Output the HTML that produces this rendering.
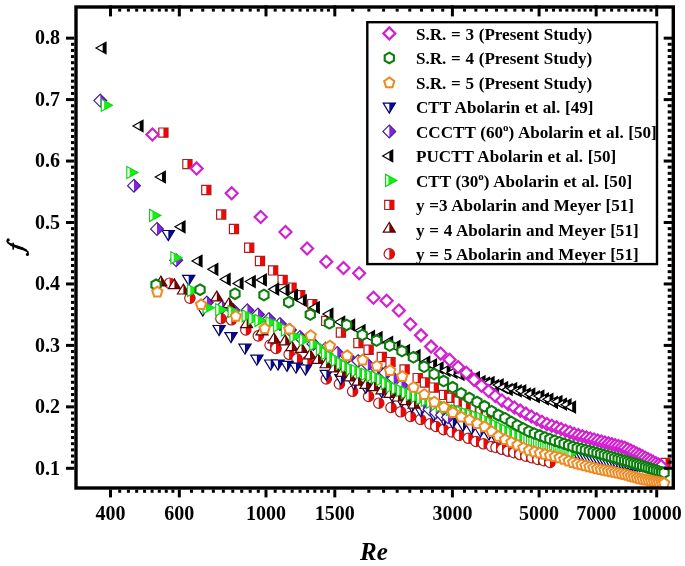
<!DOCTYPE html>
<html><head><meta charset="utf-8"><style>
html,body{margin:0;padding:0;background:#fff;width:685px;height:566px;overflow:hidden}
svg{display:block;will-change:transform}
</style></head><body>
<svg width="685" height="566" viewBox="0 0 685 566">
<rect width="685" height="566" fill="#fff"/>
<defs><clipPath id="c"><rect x="76.0" y="7.0" width="597.3" height="481.0"/></clipPath></defs>
<g clip-path="url(#c)">
<circle cx="169.6" cy="283.2" r="5.2" fill="#fff"/><path d="M169.6,278 A5.2,5.2 0 0 1 169.6,288.4 Z" fill="#f00"/><circle cx="169.6" cy="283.2" r="5.2" fill="none" stroke="#a82020" stroke-width="1.2"/>
<circle cx="189.9" cy="298.2" r="5.2" fill="#fff"/><path d="M189.9,293 A5.2,5.2 0 0 1 189.9,303.4 Z" fill="#f00"/><circle cx="189.9" cy="298.2" r="5.2" fill="none" stroke="#a82020" stroke-width="1.2"/>
<circle cx="220.9" cy="318.6" r="5.2" fill="#fff"/><path d="M220.9,313.4 A5.2,5.2 0 0 1 220.9,323.8 Z" fill="#f00"/><circle cx="220.9" cy="318.6" r="5.2" fill="none" stroke="#a82020" stroke-width="1.2"/>
<circle cx="231.4" cy="319.8" r="5.2" fill="#fff"/><path d="M231.4,314.6 A5.2,5.2 0 0 1 231.4,325 Z" fill="#f00"/><circle cx="231.4" cy="319.8" r="5.2" fill="none" stroke="#a82020" stroke-width="1.2"/>
<circle cx="245.8" cy="330" r="5.2" fill="#fff"/><path d="M245.8,324.8 A5.2,5.2 0 0 1 245.8,335.2 Z" fill="#f00"/><circle cx="245.8" cy="330" r="5.2" fill="none" stroke="#a82020" stroke-width="1.2"/>
<circle cx="258.3" cy="335.9" r="5.2" fill="#fff"/><path d="M258.3,330.7 A5.2,5.2 0 0 1 258.3,341.1 Z" fill="#f00"/><circle cx="258.3" cy="335.9" r="5.2" fill="none" stroke="#a82020" stroke-width="1.2"/>
<circle cx="270.1" cy="345.1" r="5.2" fill="#fff"/><path d="M270.1,339.9 A5.2,5.2 0 0 1 270.1,350.3 Z" fill="#f00"/><circle cx="270.1" cy="345.1" r="5.2" fill="none" stroke="#a82020" stroke-width="1.2"/>
<circle cx="276" cy="348.4" r="5.2" fill="#fff"/><path d="M276,343.2 A5.2,5.2 0 0 1 276,353.6 Z" fill="#f00"/><circle cx="276" cy="348.4" r="5.2" fill="none" stroke="#a82020" stroke-width="1.2"/>
<circle cx="289.1" cy="354.3" r="5.2" fill="#fff"/><path d="M289.1,349.1 A5.2,5.2 0 0 1 289.1,359.5 Z" fill="#f00"/><circle cx="289.1" cy="354.3" r="5.2" fill="none" stroke="#a82020" stroke-width="1.2"/>
<circle cx="297" cy="358.9" r="5.2" fill="#fff"/><path d="M297,353.7 A5.2,5.2 0 0 1 297,364.1 Z" fill="#f00"/><circle cx="297" cy="358.9" r="5.2" fill="none" stroke="#a82020" stroke-width="1.2"/>
<circle cx="307.3" cy="361.4" r="5.2" fill="#fff"/><path d="M307.3,356.2 A5.2,5.2 0 0 1 307.3,366.6 Z" fill="#f00"/><circle cx="307.3" cy="361.4" r="5.2" fill="none" stroke="#a82020" stroke-width="1.2"/>
<circle cx="326.3" cy="378.9" r="5.2" fill="#fff"/><path d="M326.3,373.7 A5.2,5.2 0 0 1 326.3,384.1 Z" fill="#f00"/><circle cx="326.3" cy="378.9" r="5.2" fill="none" stroke="#a82020" stroke-width="1.2"/>
<circle cx="339.4" cy="384" r="5.2" fill="#fff"/><path d="M339.4,378.8 A5.2,5.2 0 0 1 339.4,389.2 Z" fill="#f00"/><circle cx="339.4" cy="384" r="5.2" fill="none" stroke="#a82020" stroke-width="1.2"/>
<circle cx="352.6" cy="391.3" r="5.2" fill="#fff"/><path d="M352.6,386.1 A5.2,5.2 0 0 1 352.6,396.5 Z" fill="#f00"/><circle cx="352.6" cy="391.3" r="5.2" fill="none" stroke="#a82020" stroke-width="1.2"/>
<circle cx="368.6" cy="396.4" r="5.2" fill="#fff"/><path d="M368.6,391.2 A5.2,5.2 0 0 1 368.6,401.6 Z" fill="#f00"/><circle cx="368.6" cy="396.4" r="5.2" fill="none" stroke="#a82020" stroke-width="1.2"/>
<circle cx="378.8" cy="403.2" r="5.2" fill="#fff"/><path d="M378.8,398 A5.2,5.2 0 0 1 378.8,408.4 Z" fill="#f00"/><circle cx="378.8" cy="403.2" r="5.2" fill="none" stroke="#a82020" stroke-width="1.2"/>
<circle cx="391" cy="407.5" r="5.2" fill="#fff"/><path d="M391,402.3 A5.2,5.2 0 0 1 391,412.7 Z" fill="#f00"/><circle cx="391" cy="407.5" r="5.2" fill="none" stroke="#a82020" stroke-width="1.2"/>
<circle cx="400.7" cy="411.8" r="5.2" fill="#fff"/><path d="M400.7,406.6 A5.2,5.2 0 0 1 400.7,417 Z" fill="#f00"/><circle cx="400.7" cy="411.8" r="5.2" fill="none" stroke="#a82020" stroke-width="1.2"/>
<circle cx="410.5" cy="416.5" r="5.2" fill="#fff"/><path d="M410.5,411.3 A5.2,5.2 0 0 1 410.5,421.7 Z" fill="#f00"/><circle cx="410.5" cy="416.5" r="5.2" fill="none" stroke="#a82020" stroke-width="1.2"/>
<circle cx="420.6" cy="419.5" r="5.2" fill="#fff"/><path d="M420.6,414.3 A5.2,5.2 0 0 1 420.6,424.7 Z" fill="#f00"/><circle cx="420.6" cy="419.5" r="5.2" fill="none" stroke="#a82020" stroke-width="1.2"/>
<circle cx="430" cy="423.9" r="5.2" fill="#fff"/><path d="M430,418.7 A5.2,5.2 0 0 1 430,429.1 Z" fill="#f00"/><circle cx="430" cy="423.9" r="5.2" fill="none" stroke="#a82020" stroke-width="1.2"/>
<circle cx="436" cy="426.5" r="5.2" fill="#fff"/><path d="M436,421.3 A5.2,5.2 0 0 1 436,431.7 Z" fill="#f00"/><circle cx="436" cy="426.5" r="5.2" fill="none" stroke="#a82020" stroke-width="1.2"/>
<circle cx="443.6" cy="429.6" r="5.2" fill="#fff"/><path d="M443.6,424.4 A5.2,5.2 0 0 1 443.6,434.8 Z" fill="#f00"/><circle cx="443.6" cy="429.6" r="5.2" fill="none" stroke="#a82020" stroke-width="1.2"/>
<circle cx="451.9" cy="432" r="5.2" fill="#fff"/><path d="M451.9,426.8 A5.2,5.2 0 0 1 451.9,437.2 Z" fill="#f00"/><circle cx="451.9" cy="432" r="5.2" fill="none" stroke="#a82020" stroke-width="1.2"/>
<circle cx="459" cy="435.4" r="5.2" fill="#fff"/><path d="M459,430.2 A5.2,5.2 0 0 1 459,440.6 Z" fill="#f00"/><circle cx="459" cy="435.4" r="5.2" fill="none" stroke="#a82020" stroke-width="1.2"/>
<circle cx="468.3" cy="438.3" r="5.2" fill="#fff"/><path d="M468.3,433.1 A5.2,5.2 0 0 1 468.3,443.5 Z" fill="#f00"/><circle cx="468.3" cy="438.3" r="5.2" fill="none" stroke="#a82020" stroke-width="1.2"/>
<circle cx="476" cy="441.5" r="5.2" fill="#fff"/><path d="M476,436.3 A5.2,5.2 0 0 1 476,446.7 Z" fill="#f00"/><circle cx="476" cy="441.5" r="5.2" fill="none" stroke="#a82020" stroke-width="1.2"/>
<circle cx="483.5" cy="443.8" r="5.2" fill="#fff"/><path d="M483.5,438.6 A5.2,5.2 0 0 1 483.5,449 Z" fill="#f00"/><circle cx="483.5" cy="443.8" r="5.2" fill="none" stroke="#a82020" stroke-width="1.2"/>
<circle cx="491.7" cy="446.5" r="5.2" fill="#fff"/><path d="M491.7,441.3 A5.2,5.2 0 0 1 491.7,451.7 Z" fill="#f00"/><circle cx="491.7" cy="446.5" r="5.2" fill="none" stroke="#a82020" stroke-width="1.2"/>
<circle cx="496" cy="447.5" r="5.2" fill="#fff"/><path d="M496,442.3 A5.2,5.2 0 0 1 496,452.7 Z" fill="#f00"/><circle cx="496" cy="447.5" r="5.2" fill="none" stroke="#a82020" stroke-width="1.2"/>
<circle cx="502" cy="449.3" r="5.2" fill="#fff"/><path d="M502,444.1 A5.2,5.2 0 0 1 502,454.5 Z" fill="#f00"/><circle cx="502" cy="449.3" r="5.2" fill="none" stroke="#a82020" stroke-width="1.2"/>
<circle cx="508" cy="451.1" r="5.2" fill="#fff"/><path d="M508,445.9 A5.2,5.2 0 0 1 508,456.3 Z" fill="#f00"/><circle cx="508" cy="451.1" r="5.2" fill="none" stroke="#a82020" stroke-width="1.2"/>
<circle cx="514" cy="452.73" r="5.2" fill="#fff"/><path d="M514,447.53 A5.2,5.2 0 0 1 514,457.93 Z" fill="#f00"/><circle cx="514" cy="452.73" r="5.2" fill="none" stroke="#a82020" stroke-width="1.2"/>
<circle cx="520" cy="454.56" r="5.2" fill="#fff"/><path d="M520,449.36 A5.2,5.2 0 0 1 520,459.76 Z" fill="#f00"/><circle cx="520" cy="454.56" r="5.2" fill="none" stroke="#a82020" stroke-width="1.2"/>
<circle cx="526" cy="456.25" r="5.2" fill="#fff"/><path d="M526,451.05 A5.2,5.2 0 0 1 526,461.45 Z" fill="#f00"/><circle cx="526" cy="456.25" r="5.2" fill="none" stroke="#a82020" stroke-width="1.2"/>
<circle cx="532" cy="457.79" r="5.2" fill="#fff"/><path d="M532,452.59 A5.2,5.2 0 0 1 532,462.99 Z" fill="#f00"/><circle cx="532" cy="457.79" r="5.2" fill="none" stroke="#a82020" stroke-width="1.2"/>
<circle cx="538" cy="459.5" r="5.2" fill="#fff"/><path d="M538,454.3 A5.2,5.2 0 0 1 538,464.7 Z" fill="#f00"/><circle cx="538" cy="459.5" r="5.2" fill="none" stroke="#a82020" stroke-width="1.2"/>
<circle cx="544" cy="460.72" r="5.2" fill="#fff"/><path d="M544,455.52 A5.2,5.2 0 0 1 544,465.92 Z" fill="#f00"/><circle cx="544" cy="460.72" r="5.2" fill="none" stroke="#a82020" stroke-width="1.2"/>
<circle cx="550" cy="462.39" r="5.2" fill="#fff"/><path d="M550,457.19 A5.2,5.2 0 0 1 550,467.59 Z" fill="#f00"/><circle cx="550" cy="462.39" r="5.2" fill="none" stroke="#a82020" stroke-width="1.2"/>
<polygon points="162.2,230.5 174.4,230.5 168.3,240.5" fill="#fff" stroke="none"/><polygon points="168.3,230.5 174.4,230.5 168.3,240.5" fill="#0a0a96" stroke="none"/><polygon points="162.2,230.5 174.4,230.5 168.3,240.5" fill="none" stroke="#00006a" stroke-width="1.2"/>
<polygon points="182.6,275.3 194.8,275.3 188.7,285.3" fill="#fff" stroke="none"/><polygon points="188.7,275.3 194.8,275.3 188.7,285.3" fill="#0a0a96" stroke="none"/><polygon points="182.6,275.3 194.8,275.3 188.7,285.3" fill="none" stroke="#00006a" stroke-width="1.2"/>
<polygon points="196.7,306 208.9,306 202.8,316" fill="#fff" stroke="none"/><polygon points="202.8,306 208.9,306 202.8,316" fill="#0a0a96" stroke="none"/><polygon points="196.7,306 208.9,306 202.8,316" fill="none" stroke="#00006a" stroke-width="1.2"/>
<polygon points="213,325.5 225.2,325.5 219.1,335.5" fill="#fff" stroke="none"/><polygon points="219.1,325.5 225.2,325.5 219.1,335.5" fill="#0a0a96" stroke="none"/><polygon points="213,325.5 225.2,325.5 219.1,335.5" fill="none" stroke="#00006a" stroke-width="1.2"/>
<polygon points="224.9,332.6 237.1,332.6 231,342.6" fill="#fff" stroke="none"/><polygon points="231,332.6 237.1,332.6 231,342.6" fill="#0a0a96" stroke="none"/><polygon points="224.9,332.6 237.1,332.6 231,342.6" fill="none" stroke="#00006a" stroke-width="1.2"/>
<polygon points="238.9,344.2 251.1,344.2 245,354.2" fill="#fff" stroke="none"/><polygon points="245,344.2 251.1,344.2 245,354.2" fill="#0a0a96" stroke="none"/><polygon points="238.9,344.2 251.1,344.2 245,354.2" fill="none" stroke="#00006a" stroke-width="1.2"/>
<polygon points="250.8,355.2 263,355.2 256.9,365.2" fill="#fff" stroke="none"/><polygon points="256.9,355.2 263,355.2 256.9,365.2" fill="#0a0a96" stroke="none"/><polygon points="250.8,355.2 263,355.2 256.9,365.2" fill="none" stroke="#00006a" stroke-width="1.2"/>
<polygon points="264.6,360 276.8,360 270.7,370" fill="#fff" stroke="none"/><polygon points="270.7,360 276.8,360 270.7,370" fill="#0a0a96" stroke="none"/><polygon points="264.6,360 276.8,360 270.7,370" fill="none" stroke="#00006a" stroke-width="1.2"/>
<polygon points="271.9,360 284.1,360 278,370" fill="#fff" stroke="none"/><polygon points="278,360 284.1,360 278,370" fill="#0a0a96" stroke="none"/><polygon points="271.9,360 284.1,360 278,370" fill="none" stroke="#00006a" stroke-width="1.2"/>
<polygon points="280.9,361.3 293.1,361.3 287,371.3" fill="#fff" stroke="none"/><polygon points="287,361.3 293.1,361.3 287,371.3" fill="#0a0a96" stroke="none"/><polygon points="280.9,361.3 293.1,361.3 287,371.3" fill="none" stroke="#00006a" stroke-width="1.2"/>
<polygon points="289.9,363.2 302.1,363.2 296,373.2" fill="#fff" stroke="none"/><polygon points="296,363.2 302.1,363.2 296,373.2" fill="#0a0a96" stroke="none"/><polygon points="289.9,363.2 302.1,363.2 296,373.2" fill="none" stroke="#00006a" stroke-width="1.2"/>
<polygon points="299.4,365 311.6,365 305.5,375" fill="#fff" stroke="none"/><polygon points="305.5,365 311.6,365 305.5,375" fill="#0a0a96" stroke="none"/><polygon points="299.4,365 311.6,365 305.5,375" fill="none" stroke="#00006a" stroke-width="1.2"/>
<polygon points="320.2,370.3 332.4,370.3 326.3,380.3" fill="#fff" stroke="none"/><polygon points="326.3,370.3 332.4,370.3 326.3,380.3" fill="#0a0a96" stroke="none"/><polygon points="320.2,370.3 332.4,370.3 326.3,380.3" fill="none" stroke="#00006a" stroke-width="1.2"/>
<polygon points="334.8,374.6 347,374.6 340.9,384.6" fill="#fff" stroke="none"/><polygon points="340.9,374.6 347,374.6 340.9,384.6" fill="#0a0a96" stroke="none"/><polygon points="334.8,374.6 347,374.6 340.9,384.6" fill="none" stroke="#00006a" stroke-width="1.2"/>
<polygon points="347.9,379.7 360.1,379.7 354,389.7" fill="#fff" stroke="none"/><polygon points="354,379.7 360.1,379.7 354,389.7" fill="#0a0a96" stroke="none"/><polygon points="347.9,379.7 360.1,379.7 354,389.7" fill="none" stroke="#00006a" stroke-width="1.2"/>
<polygon points="359.6,383.4 371.8,383.4 365.7,393.4" fill="#fff" stroke="none"/><polygon points="365.7,383.4 371.8,383.4 365.7,393.4" fill="#0a0a96" stroke="none"/><polygon points="359.6,383.4 371.8,383.4 365.7,393.4" fill="none" stroke="#00006a" stroke-width="1.2"/>
<polygon points="375.7,387.8 387.9,387.8 381.8,397.8" fill="#fff" stroke="none"/><polygon points="381.8,387.8 387.9,387.8 381.8,397.8" fill="#0a0a96" stroke="none"/><polygon points="375.7,387.8 387.9,387.8 381.8,397.8" fill="none" stroke="#00006a" stroke-width="1.2"/>
<polygon points="386.8,392.8 399,392.8 392.9,402.8" fill="#fff" stroke="none"/><polygon points="392.9,392.8 399,392.8 392.9,402.8" fill="#0a0a96" stroke="none"/><polygon points="386.8,392.8 399,392.8 392.9,402.8" fill="none" stroke="#00006a" stroke-width="1.2"/>
<polygon points="395.6,397.2 407.8,397.2 401.7,407.2" fill="#fff" stroke="none"/><polygon points="401.7,397.2 407.8,397.2 401.7,407.2" fill="#0a0a96" stroke="none"/><polygon points="395.6,397.2 407.8,397.2 401.7,407.2" fill="none" stroke="#00006a" stroke-width="1.2"/>
<polygon points="405.8,402.3 418,402.3 411.9,412.3" fill="#fff" stroke="none"/><polygon points="411.9,402.3 418,402.3 411.9,412.3" fill="#0a0a96" stroke="none"/><polygon points="405.8,402.3 418,402.3 411.9,412.3" fill="none" stroke="#00006a" stroke-width="1.2"/>
<polygon points="414.6,406.7 426.8,406.7 420.7,416.7" fill="#fff" stroke="none"/><polygon points="420.7,406.7 426.8,406.7 420.7,416.7" fill="#0a0a96" stroke="none"/><polygon points="414.6,406.7 426.8,406.7 420.7,416.7" fill="none" stroke="#00006a" stroke-width="1.2"/>
<polygon points="427.7,411.1 439.9,411.1 433.8,421.1" fill="#fff" stroke="none"/><polygon points="433.8,411.1 439.9,411.1 433.8,421.1" fill="#0a0a96" stroke="none"/><polygon points="427.7,411.1 439.9,411.1 433.8,421.1" fill="none" stroke="#00006a" stroke-width="1.2"/>
<polygon points="437.9,415.5 450.1,415.5 444,425.5" fill="#fff" stroke="none"/><polygon points="444,415.5 450.1,415.5 444,425.5" fill="#0a0a96" stroke="none"/><polygon points="437.9,415.5 450.1,415.5 444,425.5" fill="none" stroke="#00006a" stroke-width="1.2"/>
<polygon points="446.7,418.4 458.9,418.4 452.8,428.4" fill="#fff" stroke="none"/><polygon points="452.8,418.4 458.9,418.4 452.8,428.4" fill="#0a0a96" stroke="none"/><polygon points="446.7,418.4 458.9,418.4 452.8,428.4" fill="none" stroke="#00006a" stroke-width="1.2"/>
<polygon points="456.9,421.3 469.1,421.3 463,431.3" fill="#fff" stroke="none"/><polygon points="463,421.3 469.1,421.3 463,431.3" fill="#0a0a96" stroke="none"/><polygon points="456.9,421.3 469.1,421.3 463,431.3" fill="none" stroke="#00006a" stroke-width="1.2"/>
<polygon points="465.7,424.2 477.9,424.2 471.8,434.2" fill="#fff" stroke="none"/><polygon points="471.8,424.2 477.9,424.2 471.8,434.2" fill="#0a0a96" stroke="none"/><polygon points="465.7,424.2 477.9,424.2 471.8,434.2" fill="none" stroke="#00006a" stroke-width="1.2"/>
<polygon points="474.4,427.2 486.6,427.2 480.5,437.2" fill="#fff" stroke="none"/><polygon points="480.5,427.2 486.6,427.2 480.5,437.2" fill="#0a0a96" stroke="none"/><polygon points="474.4,427.2 486.6,427.2 480.5,437.2" fill="none" stroke="#00006a" stroke-width="1.2"/>
<polygon points="482.9,430 495.1,430 489,440" fill="#fff" stroke="none"/><polygon points="489,430 495.1,430 489,440" fill="#0a0a96" stroke="none"/><polygon points="482.9,430 495.1,430 489,440" fill="none" stroke="#00006a" stroke-width="1.2"/>
<polygon points="488.73,431.5 500.93,431.5 494.83,441.5" fill="#fff" stroke="none"/><polygon points="494.83,431.5 500.93,431.5 494.83,441.5" fill="#0a0a96" stroke="none"/><polygon points="488.73,431.5 500.93,431.5 494.83,441.5" fill="none" stroke="#00006a" stroke-width="1.2"/>
<polygon points="494.36,432.96 506.56,432.96 500.46,442.96" fill="#fff" stroke="none"/><polygon points="500.46,432.96 506.56,432.96 500.46,442.96" fill="#0a0a96" stroke="none"/><polygon points="494.36,432.96 506.56,432.96 500.46,442.96" fill="none" stroke="#00006a" stroke-width="1.2"/>
<polygon points="499.81,434.36 512.01,434.36 505.91,444.36" fill="#fff" stroke="none"/><polygon points="505.91,434.36 512.01,434.36 505.91,444.36" fill="#0a0a96" stroke="none"/><polygon points="499.81,434.36 512.01,434.36 505.91,444.36" fill="none" stroke="#00006a" stroke-width="1.2"/>
<polygon points="505.09,435.73 517.29,435.73 511.19,445.73" fill="#fff" stroke="none"/><polygon points="511.19,435.73 517.29,435.73 511.19,445.73" fill="#0a0a96" stroke="none"/><polygon points="505.09,435.73 517.29,435.73 511.19,445.73" fill="none" stroke="#00006a" stroke-width="1.2"/>
<polygon points="510.21,437.05 522.41,437.05 516.31,447.05" fill="#fff" stroke="none"/><polygon points="516.31,437.05 522.41,437.05 516.31,447.05" fill="#0a0a96" stroke="none"/><polygon points="510.21,437.05 522.41,437.05 516.31,447.05" fill="none" stroke="#00006a" stroke-width="1.2"/>
<polygon points="515.18,438.3 527.38,438.3 521.28,448.3" fill="#fff" stroke="none"/><polygon points="521.28,438.3 527.38,438.3 521.28,448.3" fill="#0a0a96" stroke="none"/><polygon points="515.18,438.3 527.38,438.3 521.28,448.3" fill="none" stroke="#00006a" stroke-width="1.2"/>
<polygon points="520.01,439.45 532.21,439.45 526.11,449.45" fill="#fff" stroke="none"/><polygon points="526.11,439.45 532.21,439.45 526.11,449.45" fill="#0a0a96" stroke="none"/><polygon points="520.01,439.45 532.21,439.45 526.11,449.45" fill="none" stroke="#00006a" stroke-width="1.2"/>
<polygon points="524.71,440.57 536.91,440.57 530.81,450.57" fill="#fff" stroke="none"/><polygon points="530.81,440.57 536.91,440.57 530.81,450.57" fill="#0a0a96" stroke="none"/><polygon points="524.71,440.57 536.91,440.57 530.81,450.57" fill="none" stroke="#00006a" stroke-width="1.2"/>
<polygon points="529.28,441.65 541.48,441.65 535.38,451.65" fill="#fff" stroke="none"/><polygon points="535.38,441.65 541.48,441.65 535.38,451.65" fill="#0a0a96" stroke="none"/><polygon points="529.28,441.65 541.48,441.65 535.38,451.65" fill="none" stroke="#00006a" stroke-width="1.2"/>
<polygon points="533.73,442.71 545.93,442.71 539.83,452.71" fill="#fff" stroke="none"/><polygon points="539.83,442.71 545.93,442.71 539.83,452.71" fill="#0a0a96" stroke="none"/><polygon points="533.73,442.71 545.93,442.71 539.83,452.71" fill="none" stroke="#00006a" stroke-width="1.2"/>
<polygon points="538.07,443.73 550.27,443.73 544.17,453.73" fill="#fff" stroke="none"/><polygon points="544.17,443.73 550.27,443.73 544.17,453.73" fill="#0a0a96" stroke="none"/><polygon points="538.07,443.73 550.27,443.73 544.17,453.73" fill="none" stroke="#00006a" stroke-width="1.2"/>
<polygon points="542.3,444.74 554.5,444.74 548.4,454.74" fill="#fff" stroke="none"/><polygon points="548.4,444.74 554.5,444.74 548.4,454.74" fill="#0a0a96" stroke="none"/><polygon points="542.3,444.74 554.5,444.74 548.4,454.74" fill="none" stroke="#00006a" stroke-width="1.2"/>
<polygon points="546.42,445.72 558.62,445.72 552.52,455.72" fill="#fff" stroke="none"/><polygon points="552.52,445.72 558.62,445.72 552.52,455.72" fill="#0a0a96" stroke="none"/><polygon points="546.42,445.72 558.62,445.72 552.52,455.72" fill="none" stroke="#00006a" stroke-width="1.2"/>
<polygon points="550.45,446.67 562.65,446.67 556.55,456.67" fill="#fff" stroke="none"/><polygon points="556.55,446.67 562.65,446.67 556.55,456.67" fill="#0a0a96" stroke="none"/><polygon points="550.45,446.67 562.65,446.67 556.55,456.67" fill="none" stroke="#00006a" stroke-width="1.2"/>
<polygon points="554.38,447.61 566.58,447.61 560.48,457.61" fill="#fff" stroke="none"/><polygon points="560.48,447.61 566.58,447.61 560.48,457.61" fill="#0a0a96" stroke="none"/><polygon points="554.38,447.61 566.58,447.61 560.48,457.61" fill="none" stroke="#00006a" stroke-width="1.2"/>
<polygon points="558.23,448.55 570.43,448.55 564.33,458.55" fill="#fff" stroke="none"/><polygon points="564.33,448.55 570.43,448.55 564.33,458.55" fill="#0a0a96" stroke="none"/><polygon points="558.23,448.55 570.43,448.55 564.33,458.55" fill="none" stroke="#00006a" stroke-width="1.2"/>
<polygon points="561.99,449.49 574.19,449.49 568.09,459.49" fill="#fff" stroke="none"/><polygon points="568.09,449.49 574.19,449.49 568.09,459.49" fill="#0a0a96" stroke="none"/><polygon points="561.99,449.49 574.19,449.49 568.09,459.49" fill="none" stroke="#00006a" stroke-width="1.2"/>
<polygon points="565.67,450.4 577.87,450.4 571.77,460.4" fill="#fff" stroke="none"/><polygon points="571.77,450.4 577.87,450.4 571.77,460.4" fill="#0a0a96" stroke="none"/><polygon points="565.67,450.4 577.87,450.4 571.77,460.4" fill="none" stroke="#00006a" stroke-width="1.2"/>
<polygon points="569.27,451.3 581.47,451.3 575.37,461.3" fill="#fff" stroke="none"/><polygon points="575.37,451.3 581.47,451.3 575.37,461.3" fill="#0a0a96" stroke="none"/><polygon points="569.27,451.3 581.47,451.3 575.37,461.3" fill="none" stroke="#00006a" stroke-width="1.2"/>
<polygon points="572.79,452.17 584.99,452.17 578.89,462.17" fill="#fff" stroke="none"/><polygon points="578.89,452.17 584.99,452.17 578.89,462.17" fill="#0a0a96" stroke="none"/><polygon points="572.79,452.17 584.99,452.17 578.89,462.17" fill="none" stroke="#00006a" stroke-width="1.2"/>
<polygon points="576.25,453.03 588.45,453.03 582.35,463.03" fill="#fff" stroke="none"/><polygon points="582.35,453.03 588.45,453.03 582.35,463.03" fill="#0a0a96" stroke="none"/><polygon points="576.25,453.03 588.45,453.03 582.35,463.03" fill="none" stroke="#00006a" stroke-width="1.2"/>
<polygon points="579.63,453.87 591.83,453.87 585.73,463.87" fill="#fff" stroke="none"/><polygon points="585.73,453.87 591.83,453.87 585.73,463.87" fill="#0a0a96" stroke="none"/><polygon points="579.63,453.87 591.83,453.87 585.73,463.87" fill="none" stroke="#00006a" stroke-width="1.2"/>
<polygon points="582.95,454.7 595.15,454.7 589.05,464.7" fill="#fff" stroke="none"/><polygon points="589.05,454.7 595.15,454.7 589.05,464.7" fill="#0a0a96" stroke="none"/><polygon points="582.95,454.7 595.15,454.7 589.05,464.7" fill="none" stroke="#00006a" stroke-width="1.2"/>
<polygon points="586.2,455.51 598.4,455.51 592.3,465.51" fill="#fff" stroke="none"/><polygon points="592.3,455.51 598.4,455.51 592.3,465.51" fill="#0a0a96" stroke="none"/><polygon points="586.2,455.51 598.4,455.51 592.3,465.51" fill="none" stroke="#00006a" stroke-width="1.2"/>
<polygon points="589.4,456.3 601.6,456.3 595.5,466.3" fill="#fff" stroke="none"/><polygon points="595.5,456.3 601.6,456.3 595.5,466.3" fill="#0a0a96" stroke="none"/><polygon points="589.4,456.3 601.6,456.3 595.5,466.3" fill="none" stroke="#00006a" stroke-width="1.2"/>
<polygon points="592.53,456.79 604.73,456.79 598.63,466.79" fill="#fff" stroke="none"/><polygon points="598.63,456.79 604.73,456.79 598.63,466.79" fill="#0a0a96" stroke="none"/><polygon points="592.53,456.79 604.73,456.79 598.63,466.79" fill="none" stroke="#00006a" stroke-width="1.2"/>
<polygon points="595.61,457.18 607.81,457.18 601.71,467.18" fill="#fff" stroke="none"/><polygon points="601.71,457.18 607.81,457.18 601.71,467.18" fill="#0a0a96" stroke="none"/><polygon points="595.61,457.18 607.81,457.18 601.71,467.18" fill="none" stroke="#00006a" stroke-width="1.2"/>
<polygon points="598.63,457.56 610.83,457.56 604.73,467.56" fill="#fff" stroke="none"/><polygon points="604.73,457.56 610.83,457.56 604.73,467.56" fill="#0a0a96" stroke="none"/><polygon points="598.63,457.56 610.83,457.56 604.73,467.56" fill="none" stroke="#00006a" stroke-width="1.2"/>
<polygon points="601.6,457.94 613.8,457.94 607.7,467.94" fill="#fff" stroke="none"/><polygon points="607.7,457.94 613.8,457.94 607.7,467.94" fill="#0a0a96" stroke="none"/><polygon points="601.6,457.94 613.8,457.94 607.7,467.94" fill="none" stroke="#00006a" stroke-width="1.2"/>
<polygon points="604.52,458.3 616.72,458.3 610.62,468.3" fill="#fff" stroke="none"/><polygon points="610.62,458.3 616.72,458.3 610.62,468.3" fill="#0a0a96" stroke="none"/><polygon points="604.52,458.3 616.72,458.3 610.62,468.3" fill="none" stroke="#00006a" stroke-width="1.2"/>
<polygon points="607.39,458.66 619.59,458.66 613.49,468.66" fill="#fff" stroke="none"/><polygon points="613.49,458.66 619.59,458.66 613.49,468.66" fill="#0a0a96" stroke="none"/><polygon points="607.39,458.66 619.59,458.66 613.49,468.66" fill="none" stroke="#00006a" stroke-width="1.2"/>
<polygon points="610.21,459.02 622.41,459.02 616.31,469.02" fill="#fff" stroke="none"/><polygon points="616.31,459.02 622.41,459.02 616.31,469.02" fill="#0a0a96" stroke="none"/><polygon points="610.21,459.02 622.41,459.02 616.31,469.02" fill="none" stroke="#00006a" stroke-width="1.2"/>
<polygon points="612.99,459.37 625.19,459.37 619.09,469.37" fill="#fff" stroke="none"/><polygon points="619.09,459.37 625.19,459.37 619.09,469.37" fill="#0a0a96" stroke="none"/><polygon points="612.99,459.37 625.19,459.37 619.09,469.37" fill="none" stroke="#00006a" stroke-width="1.2"/>
<polygon points="615.72,459.71 627.92,459.71 621.82,469.71" fill="#fff" stroke="none"/><polygon points="621.82,459.71 627.92,459.71 621.82,469.71" fill="#0a0a96" stroke="none"/><polygon points="615.72,459.71 627.92,459.71 621.82,469.71" fill="none" stroke="#00006a" stroke-width="1.2"/>
<polygon points="618.41,460.05 630.61,460.05 624.51,470.05" fill="#fff" stroke="none"/><polygon points="624.51,460.05 630.61,460.05 624.51,470.05" fill="#0a0a96" stroke="none"/><polygon points="618.41,460.05 630.61,460.05 624.51,470.05" fill="none" stroke="#00006a" stroke-width="1.2"/>
<polygon points="621.06,460.38 633.26,460.38 627.16,470.38" fill="#fff" stroke="none"/><polygon points="627.16,460.38 633.26,460.38 627.16,470.38" fill="#0a0a96" stroke="none"/><polygon points="621.06,460.38 633.26,460.38 627.16,470.38" fill="none" stroke="#00006a" stroke-width="1.2"/>
<polygon points="623.66,460.71 635.86,460.71 629.76,470.71" fill="#fff" stroke="none"/><polygon points="629.76,460.71 635.86,460.71 629.76,470.71" fill="#0a0a96" stroke="none"/><polygon points="623.66,460.71 635.86,460.71 629.76,470.71" fill="none" stroke="#00006a" stroke-width="1.2"/>
<polygon points="626.23,461.03 638.43,461.03 632.33,471.03" fill="#fff" stroke="none"/><polygon points="632.33,461.03 638.43,461.03 632.33,471.03" fill="#0a0a96" stroke="none"/><polygon points="626.23,461.03 638.43,461.03 632.33,471.03" fill="none" stroke="#00006a" stroke-width="1.2"/>
<polygon points="628.75,461.35 640.95,461.35 634.85,471.35" fill="#fff" stroke="none"/><polygon points="634.85,461.35 640.95,461.35 634.85,471.35" fill="#0a0a96" stroke="none"/><polygon points="628.75,461.35 640.95,461.35 634.85,471.35" fill="none" stroke="#00006a" stroke-width="1.2"/>
<polygon points="631.24,461.67 643.44,461.67 637.34,471.67" fill="#fff" stroke="none"/><polygon points="637.34,461.67 643.44,461.67 637.34,471.67" fill="#0a0a96" stroke="none"/><polygon points="631.24,461.67 643.44,461.67 637.34,471.67" fill="none" stroke="#00006a" stroke-width="1.2"/>
<polygon points="633.7,461.97 645.9,461.97 639.8,471.97" fill="#fff" stroke="none"/><polygon points="639.8,461.97 645.9,461.97 639.8,471.97" fill="#0a0a96" stroke="none"/><polygon points="633.7,461.97 645.9,461.97 639.8,471.97" fill="none" stroke="#00006a" stroke-width="1.2"/>
<polygon points="100.3,94.2 106.7,100.6 100.3,107 93.9,100.6" fill="#fff" stroke="none"/><polygon points="100.3,94.2 106.7,100.6 100.3,107" fill="#8a1ef0" stroke="none"/><polygon points="100.3,94.2 106.7,100.6 100.3,107 93.9,100.6" fill="none" stroke="#46208a" stroke-width="1.2"/>
<polygon points="134,179.3 140.4,185.7 134,192.1 127.6,185.7" fill="#fff" stroke="none"/><polygon points="134,179.3 140.4,185.7 134,192.1" fill="#8a1ef0" stroke="none"/><polygon points="134,179.3 140.4,185.7 134,192.1 127.6,185.7" fill="none" stroke="#46208a" stroke-width="1.2"/>
<polygon points="157,222.5 163.4,228.9 157,235.3 150.6,228.9" fill="#fff" stroke="none"/><polygon points="157,222.5 163.4,228.9 157,235.3" fill="#8a1ef0" stroke="none"/><polygon points="157,222.5 163.4,228.9 157,235.3 150.6,228.9" fill="none" stroke="#46208a" stroke-width="1.2"/>
<polygon points="176.2,253.9 182.6,260.3 176.2,266.7 169.8,260.3" fill="#fff" stroke="none"/><polygon points="176.2,253.9 182.6,260.3 176.2,266.7" fill="#8a1ef0" stroke="none"/><polygon points="176.2,253.9 182.6,260.3 176.2,266.7 169.8,260.3" fill="none" stroke="#46208a" stroke-width="1.2"/>
<polygon points="206.9,296.2 213.3,302.6 206.9,309 200.5,302.6" fill="#fff" stroke="none"/><polygon points="206.9,296.2 213.3,302.6 206.9,309" fill="#8a1ef0" stroke="none"/><polygon points="206.9,296.2 213.3,302.6 206.9,309 200.5,302.6" fill="none" stroke="#46208a" stroke-width="1.2"/>
<polygon points="221.9,300.9 228.3,307.3 221.9,313.7 215.5,307.3" fill="#fff" stroke="none"/><polygon points="221.9,300.9 228.3,307.3 221.9,313.7" fill="#8a1ef0" stroke="none"/><polygon points="221.9,300.9 228.3,307.3 221.9,313.7 215.5,307.3" fill="none" stroke="#46208a" stroke-width="1.2"/>
<polygon points="233.2,303.6 239.6,310 233.2,316.4 226.8,310" fill="#fff" stroke="none"/><polygon points="233.2,303.6 239.6,310 233.2,316.4" fill="#8a1ef0" stroke="none"/><polygon points="233.2,303.6 239.6,310 233.2,316.4 226.8,310" fill="none" stroke="#46208a" stroke-width="1.2"/>
<polygon points="247.4,303.9 253.8,310.3 247.4,316.7 241,310.3" fill="#fff" stroke="none"/><polygon points="247.4,303.9 253.8,310.3 247.4,316.7" fill="#8a1ef0" stroke="none"/><polygon points="247.4,303.9 253.8,310.3 247.4,316.7 241,310.3" fill="none" stroke="#46208a" stroke-width="1.2"/>
<polygon points="258,308.1 264.4,314.5 258,320.9 251.6,314.5" fill="#fff" stroke="none"/><polygon points="258,308.1 264.4,314.5 258,320.9" fill="#8a1ef0" stroke="none"/><polygon points="258,308.1 264.4,314.5 258,320.9 251.6,314.5" fill="none" stroke="#46208a" stroke-width="1.2"/>
<polygon points="269,312.6 275.4,319 269,325.4 262.6,319" fill="#fff" stroke="none"/><polygon points="269,312.6 275.4,319 269,325.4" fill="#8a1ef0" stroke="none"/><polygon points="269,312.6 275.4,319 269,325.4 262.6,319" fill="none" stroke="#46208a" stroke-width="1.2"/>
<polygon points="280,317.6 286.4,324 280,330.4 273.6,324" fill="#fff" stroke="none"/><polygon points="280,317.6 286.4,324 280,330.4" fill="#8a1ef0" stroke="none"/><polygon points="280,317.6 286.4,324 280,330.4 273.6,324" fill="none" stroke="#46208a" stroke-width="1.2"/>
<polygon points="290,323.6 296.4,330 290,336.4 283.6,330" fill="#fff" stroke="none"/><polygon points="290,323.6 296.4,330 290,336.4" fill="#8a1ef0" stroke="none"/><polygon points="290,323.6 296.4,330 290,336.4 283.6,330" fill="none" stroke="#46208a" stroke-width="1.2"/>
<polygon points="300,330.6 306.4,337 300,343.4 293.6,337" fill="#fff" stroke="none"/><polygon points="300,330.6 306.4,337 300,343.4" fill="#8a1ef0" stroke="none"/><polygon points="300,330.6 306.4,337 300,343.4 293.6,337" fill="none" stroke="#46208a" stroke-width="1.2"/>
<polygon points="313.35,337.48 319.75,343.88 313.35,350.28 306.95,343.88" fill="#fff" stroke="none"/><polygon points="313.35,337.48 319.75,343.88 313.35,350.28" fill="#8a1ef0" stroke="none"/><polygon points="313.35,337.48 319.75,343.88 313.35,350.28 306.95,343.88" fill="none" stroke="#46208a" stroke-width="1.2"/>
<polygon points="325.72,342.14 332.12,348.54 325.72,354.94 319.32,348.54" fill="#fff" stroke="none"/><polygon points="325.72,342.14 332.12,348.54 325.72,354.94" fill="#8a1ef0" stroke="none"/><polygon points="325.72,342.14 332.12,348.54 325.72,354.94 319.32,348.54" fill="none" stroke="#46208a" stroke-width="1.2"/>
<polygon points="337.25,346.49 343.65,352.89 337.25,359.29 330.85,352.89" fill="#fff" stroke="none"/><polygon points="337.25,346.49 343.65,352.89 337.25,359.29" fill="#8a1ef0" stroke="none"/><polygon points="337.25,346.49 343.65,352.89 337.25,359.29 330.85,352.89" fill="none" stroke="#46208a" stroke-width="1.2"/>
<polygon points="348.05,350.66 354.45,357.06 348.05,363.46 341.65,357.06" fill="#fff" stroke="none"/><polygon points="348.05,350.66 354.45,357.06 348.05,363.46" fill="#8a1ef0" stroke="none"/><polygon points="348.05,350.66 354.45,357.06 348.05,363.46 341.65,357.06" fill="none" stroke="#46208a" stroke-width="1.2"/>
<polygon points="358.2,354.58 364.6,360.98 358.2,367.38 351.8,360.98" fill="#fff" stroke="none"/><polygon points="358.2,354.58 364.6,360.98 358.2,367.38" fill="#8a1ef0" stroke="none"/><polygon points="358.2,354.58 364.6,360.98 358.2,367.38 351.8,360.98" fill="none" stroke="#46208a" stroke-width="1.2"/>
<polygon points="367.78,358.28 374.18,364.68 367.78,371.08 361.38,364.68" fill="#fff" stroke="none"/><polygon points="367.78,358.28 374.18,364.68 367.78,371.08" fill="#8a1ef0" stroke="none"/><polygon points="367.78,358.28 374.18,364.68 367.78,371.08 361.38,364.68" fill="none" stroke="#46208a" stroke-width="1.2"/>
<polygon points="376.85,362.42 383.25,368.82 376.85,375.22 370.45,368.82" fill="#fff" stroke="none"/><polygon points="376.85,362.42 383.25,368.82 376.85,375.22" fill="#8a1ef0" stroke="none"/><polygon points="376.85,362.42 383.25,368.82 376.85,375.22 370.45,368.82" fill="none" stroke="#46208a" stroke-width="1.2"/>
<polygon points="385.46,366.41 391.86,372.81 385.46,379.21 379.06,372.81" fill="#fff" stroke="none"/><polygon points="385.46,366.41 391.86,372.81 385.46,379.21" fill="#8a1ef0" stroke="none"/><polygon points="385.46,366.41 391.86,372.81 385.46,379.21 379.06,372.81" fill="none" stroke="#46208a" stroke-width="1.2"/>
<polygon points="393.65,371.94 400.05,378.34 393.65,384.74 387.25,378.34" fill="#fff" stroke="none"/><polygon points="393.65,371.94 400.05,378.34 393.65,384.74" fill="#8a1ef0" stroke="none"/><polygon points="393.65,371.94 400.05,378.34 393.65,384.74 387.25,378.34" fill="none" stroke="#46208a" stroke-width="1.2"/>
<polygon points="401.46,379.17 407.86,385.57 401.46,391.97 395.06,385.57" fill="#fff" stroke="none"/><polygon points="401.46,379.17 407.86,385.57 401.46,391.97" fill="#8a1ef0" stroke="none"/><polygon points="401.46,379.17 407.86,385.57 401.46,391.97 395.06,385.57" fill="none" stroke="#46208a" stroke-width="1.2"/>
<polygon points="408.93,386.81 415.33,393.21 408.93,399.61 402.53,393.21" fill="#fff" stroke="none"/><polygon points="408.93,386.81 415.33,393.21 408.93,399.61" fill="#8a1ef0" stroke="none"/><polygon points="408.93,386.81 415.33,393.21 408.93,399.61 402.53,393.21" fill="none" stroke="#46208a" stroke-width="1.2"/>
<polygon points="416.09,394.12 422.49,400.52 416.09,406.92 409.69,400.52" fill="#fff" stroke="none"/><polygon points="416.09,394.12 422.49,400.52 416.09,406.92" fill="#8a1ef0" stroke="none"/><polygon points="416.09,394.12 422.49,400.52 416.09,406.92 409.69,400.52" fill="none" stroke="#46208a" stroke-width="1.2"/>
<polygon points="422.95,399.36 429.35,405.76 422.95,412.16 416.55,405.76" fill="#fff" stroke="none"/><polygon points="422.95,399.36 429.35,405.76 422.95,412.16" fill="#8a1ef0" stroke="none"/><polygon points="422.95,399.36 429.35,405.76 422.95,412.16 416.55,405.76" fill="none" stroke="#46208a" stroke-width="1.2"/>
<polygon points="429.55,402.97 435.95,409.37 429.55,415.77 423.15,409.37" fill="#fff" stroke="none"/><polygon points="429.55,402.97 435.95,409.37 429.55,415.77" fill="#8a1ef0" stroke="none"/><polygon points="429.55,402.97 435.95,409.37 429.55,415.77 423.15,409.37" fill="none" stroke="#46208a" stroke-width="1.2"/>
<polygon points="435.9,406.12 442.3,412.52 435.9,418.92 429.5,412.52" fill="#fff" stroke="none"/><polygon points="435.9,406.12 442.3,412.52 435.9,418.92" fill="#8a1ef0" stroke="none"/><polygon points="435.9,406.12 442.3,412.52 435.9,418.92 429.5,412.52" fill="none" stroke="#46208a" stroke-width="1.2"/>
<polygon points="442.02,408.5 448.42,414.9 442.02,421.3 435.62,414.9" fill="#fff" stroke="none"/><polygon points="442.02,408.5 448.42,414.9 442.02,421.3" fill="#8a1ef0" stroke="none"/><polygon points="442.02,408.5 448.42,414.9 442.02,421.3 435.62,414.9" fill="none" stroke="#46208a" stroke-width="1.2"/>
<polygon points="447.93,410.8 454.33,417.2 447.93,423.6 441.53,417.2" fill="#fff" stroke="none"/><polygon points="447.93,410.8 454.33,417.2 447.93,423.6" fill="#8a1ef0" stroke="none"/><polygon points="447.93,410.8 454.33,417.2 447.93,423.6 441.53,417.2" fill="none" stroke="#46208a" stroke-width="1.2"/>
<polygon points="154.9,285.9 160.9,276.1 166.9,285.9" fill="#fff" stroke="none"/><polygon points="160.9,276.1 166.9,285.9 160.9,285.9" fill="#800000" stroke="none"/><polygon points="154.9,285.9 160.9,276.1 166.9,285.9" fill="none" stroke="#5a0000" stroke-width="1.2"/>
<polygon points="168.4,288.7 174.4,278.9 180.4,288.7" fill="#fff" stroke="none"/><polygon points="174.4,278.9 180.4,288.7 174.4,288.7" fill="#800000" stroke="none"/><polygon points="168.4,288.7 174.4,278.9 180.4,288.7" fill="none" stroke="#5a0000" stroke-width="1.2"/>
<polygon points="177.4,294 183.4,284.2 189.4,294" fill="#fff" stroke="none"/><polygon points="183.4,284.2 189.4,294 183.4,294" fill="#800000" stroke="none"/><polygon points="177.4,294 183.4,284.2 189.4,294" fill="none" stroke="#5a0000" stroke-width="1.2"/>
<polygon points="210.8,300.9 216.8,291.1 222.8,300.9" fill="#fff" stroke="none"/><polygon points="216.8,291.1 222.8,300.9 216.8,300.9" fill="#800000" stroke="none"/><polygon points="210.8,300.9 216.8,291.1 222.8,300.9" fill="none" stroke="#5a0000" stroke-width="1.2"/>
<polygon points="223,307.6 229,297.8 235,307.6" fill="#fff" stroke="none"/><polygon points="229,297.8 235,307.6 229,307.6" fill="#800000" stroke="none"/><polygon points="223,307.6 229,297.8 235,307.6" fill="none" stroke="#5a0000" stroke-width="1.2"/>
<polygon points="240.6,327.6 246.6,317.8 252.6,327.6" fill="#fff" stroke="none"/><polygon points="246.6,317.8 252.6,327.6 246.6,327.6" fill="#800000" stroke="none"/><polygon points="240.6,327.6 246.6,317.8 252.6,327.6" fill="none" stroke="#5a0000" stroke-width="1.2"/>
<polygon points="256,334.9 262,325.1 268,334.9" fill="#fff" stroke="none"/><polygon points="262,325.1 268,334.9 262,334.9" fill="#800000" stroke="none"/><polygon points="256,334.9 262,325.1 268,334.9" fill="none" stroke="#5a0000" stroke-width="1.2"/>
<polygon points="268,342.8 274,333 280,342.8" fill="#fff" stroke="none"/><polygon points="274,333 280,342.8 274,342.8" fill="#800000" stroke="none"/><polygon points="268,342.8 274,333 280,342.8" fill="none" stroke="#5a0000" stroke-width="1.2"/>
<polygon points="279.2,344.8 285.2,335 291.2,344.8" fill="#fff" stroke="none"/><polygon points="285.2,335 291.2,344.8 285.2,344.8" fill="#800000" stroke="none"/><polygon points="279.2,344.8 285.2,335 291.2,344.8" fill="none" stroke="#5a0000" stroke-width="1.2"/>
<polygon points="285.8,350.7 291.8,340.9 297.8,350.7" fill="#fff" stroke="none"/><polygon points="291.8,340.9 297.8,350.7 291.8,350.7" fill="#800000" stroke="none"/><polygon points="285.8,350.7 291.8,340.9 297.8,350.7" fill="none" stroke="#5a0000" stroke-width="1.2"/>
<polygon points="295.5,352.4 301.5,342.6 307.5,352.4" fill="#fff" stroke="none"/><polygon points="301.5,342.6 307.5,352.4 301.5,352.4" fill="#800000" stroke="none"/><polygon points="295.5,352.4 301.5,342.6 307.5,352.4" fill="none" stroke="#5a0000" stroke-width="1.2"/>
<polygon points="304,358.9 310,349.1 316,358.9" fill="#fff" stroke="none"/><polygon points="310,349.1 316,358.9 310,358.9" fill="#800000" stroke="none"/><polygon points="304,358.9 310,349.1 316,358.9" fill="none" stroke="#5a0000" stroke-width="1.2"/>
<polygon points="312,363.4 318,353.6 324,363.4" fill="#fff" stroke="none"/><polygon points="318,353.6 324,363.4 318,363.4" fill="#800000" stroke="none"/><polygon points="312,363.4 318,353.6 324,363.4" fill="none" stroke="#5a0000" stroke-width="1.2"/>
<polygon points="320,367.75 326,357.95 332,367.75" fill="#fff" stroke="none"/><polygon points="326,357.95 332,367.75 326,367.75" fill="#800000" stroke="none"/><polygon points="320,367.75 326,357.95 332,367.75" fill="none" stroke="#5a0000" stroke-width="1.2"/>
<polygon points="328,371.95 334,362.15 340,371.95" fill="#fff" stroke="none"/><polygon points="334,362.15 340,371.95 334,371.95" fill="#800000" stroke="none"/><polygon points="328,371.95 334,362.15 340,371.95" fill="none" stroke="#5a0000" stroke-width="1.2"/>
<polygon points="336,376.43 342,366.63 348,376.43" fill="#fff" stroke="none"/><polygon points="342,366.63 348,376.43 342,376.43" fill="#800000" stroke="none"/><polygon points="336,376.43 342,366.63 348,376.43" fill="none" stroke="#5a0000" stroke-width="1.2"/>
<polygon points="344,380.97 350,371.17 356,380.97" fill="#fff" stroke="none"/><polygon points="350,371.17 356,380.97 350,380.97" fill="#800000" stroke="none"/><polygon points="344,380.97 350,371.17 356,380.97" fill="none" stroke="#5a0000" stroke-width="1.2"/>
<polygon points="352,385.08 358,375.28 364,385.08" fill="#fff" stroke="none"/><polygon points="358,375.28 364,385.08 358,385.08" fill="#800000" stroke="none"/><polygon points="352,385.08 358,375.28 364,385.08" fill="none" stroke="#5a0000" stroke-width="1.2"/>
<polygon points="360,388.38 366,378.58 372,388.38" fill="#fff" stroke="none"/><polygon points="366,378.58 372,388.38 366,388.38" fill="#800000" stroke="none"/><polygon points="360,388.38 366,378.58 372,388.38" fill="none" stroke="#5a0000" stroke-width="1.2"/>
<polygon points="368,390.58 374,380.78 380,390.58" fill="#fff" stroke="none"/><polygon points="374,380.78 380,390.58 374,390.58" fill="#800000" stroke="none"/><polygon points="368,390.58 374,380.78 380,390.58" fill="none" stroke="#5a0000" stroke-width="1.2"/>
<polygon points="376,393.83 382,384.03 388,393.83" fill="#fff" stroke="none"/><polygon points="382,384.03 388,393.83 382,393.83" fill="#800000" stroke="none"/><polygon points="376,393.83 382,384.03 388,393.83" fill="none" stroke="#5a0000" stroke-width="1.2"/>
<polygon points="384,397.42 390,387.62 396,397.42" fill="#fff" stroke="none"/><polygon points="390,387.62 396,397.42 390,397.42" fill="#800000" stroke="none"/><polygon points="384,397.42 390,387.62 396,397.42" fill="none" stroke="#5a0000" stroke-width="1.2"/>
<polygon points="392,401 398,391.2 404,401" fill="#fff" stroke="none"/><polygon points="398,391.2 404,401 398,401" fill="#800000" stroke="none"/><polygon points="392,401 398,391.2 404,401" fill="none" stroke="#5a0000" stroke-width="1.2"/>
<polygon points="400,404.6 406,394.8 412,404.6" fill="#fff" stroke="none"/><polygon points="406,394.8 412,404.6 406,404.6" fill="#800000" stroke="none"/><polygon points="400,404.6 406,394.8 412,404.6" fill="none" stroke="#5a0000" stroke-width="1.2"/>
<polygon points="408,408.2 414,398.4 420,408.2" fill="#fff" stroke="none"/><polygon points="414,398.4 420,408.2 414,408.2" fill="#800000" stroke="none"/><polygon points="408,408.2 414,398.4 420,408.2" fill="none" stroke="#5a0000" stroke-width="1.2"/>
<polygon points="158.8,128 168,128 168,137.2 158.8,137.2" fill="#fff" stroke="none"/><polygon points="163.4,128 168,128 168,137.2 163.4,137.2" fill="#fe0000" stroke="none"/><polygon points="158.8,128 168,128 168,137.2 158.8,137.2" fill="none" stroke="#a82020" stroke-width="1.2"/>
<polygon points="182.8,159.5 192,159.5 192,168.7 182.8,168.7" fill="#fff" stroke="none"/><polygon points="187.4,159.5 192,159.5 192,168.7 187.4,168.7" fill="#fe0000" stroke="none"/><polygon points="182.8,159.5 192,159.5 192,168.7 182.8,168.7" fill="none" stroke="#a82020" stroke-width="1.2"/>
<polygon points="201.7,185.4 210.9,185.4 210.9,194.6 201.7,194.6" fill="#fff" stroke="none"/><polygon points="206.3,185.4 210.9,185.4 210.9,194.6 206.3,194.6" fill="#fe0000" stroke="none"/><polygon points="201.7,185.4 210.9,185.4 210.9,194.6 201.7,194.6" fill="none" stroke="#a82020" stroke-width="1.2"/>
<polygon points="216.6,209.9 225.8,209.9 225.8,219.1 216.6,219.1" fill="#fff" stroke="none"/><polygon points="221.2,209.9 225.8,209.9 225.8,219.1 221.2,219.1" fill="#fe0000" stroke="none"/><polygon points="216.6,209.9 225.8,209.9 225.8,219.1 216.6,219.1" fill="none" stroke="#a82020" stroke-width="1.2"/>
<polygon points="229.4,224.4 238.6,224.4 238.6,233.6 229.4,233.6" fill="#fff" stroke="none"/><polygon points="234,224.4 238.6,224.4 238.6,233.6 234,233.6" fill="#fe0000" stroke="none"/><polygon points="229.4,224.4 238.6,224.4 238.6,233.6 229.4,233.6" fill="none" stroke="#a82020" stroke-width="1.2"/>
<polygon points="244.6,243.2 253.8,243.2 253.8,252.4 244.6,252.4" fill="#fff" stroke="none"/><polygon points="249.2,243.2 253.8,243.2 253.8,252.4 249.2,252.4" fill="#fe0000" stroke="none"/><polygon points="244.6,243.2 253.8,243.2 253.8,252.4 244.6,252.4" fill="none" stroke="#a82020" stroke-width="1.2"/>
<polygon points="255.4,256.4 264.6,256.4 264.6,265.6 255.4,265.6" fill="#fff" stroke="none"/><polygon points="260,256.4 264.6,256.4 264.6,265.6 260,265.6" fill="#fe0000" stroke="none"/><polygon points="255.4,256.4 264.6,256.4 264.6,265.6 255.4,265.6" fill="none" stroke="#a82020" stroke-width="1.2"/>
<polygon points="268.5,265.8 277.7,265.8 277.7,275 268.5,275" fill="#fff" stroke="none"/><polygon points="273.1,265.8 277.7,265.8 277.7,275 273.1,275" fill="#fe0000" stroke="none"/><polygon points="268.5,265.8 277.7,265.8 277.7,275 268.5,275" fill="none" stroke="#a82020" stroke-width="1.2"/>
<polygon points="278,275.4 287.2,275.4 287.2,284.6 278,284.6" fill="#fff" stroke="none"/><polygon points="282.6,275.4 287.2,275.4 287.2,284.6 282.6,284.6" fill="#fe0000" stroke="none"/><polygon points="278,275.4 287.2,275.4 287.2,284.6 278,284.6" fill="none" stroke="#a82020" stroke-width="1.2"/>
<polygon points="286.9,283 296.1,283 296.1,292.2 286.9,292.2" fill="#fff" stroke="none"/><polygon points="291.5,283 296.1,283 296.1,292.2 291.5,292.2" fill="#fe0000" stroke="none"/><polygon points="286.9,283 296.1,283 296.1,292.2 286.9,292.2" fill="none" stroke="#a82020" stroke-width="1.2"/>
<polygon points="295.6,290.6 304.8,290.6 304.8,299.8 295.6,299.8" fill="#fff" stroke="none"/><polygon points="300.2,290.6 304.8,290.6 304.8,299.8 300.2,299.8" fill="#fe0000" stroke="none"/><polygon points="295.6,290.6 304.8,290.6 304.8,299.8 295.6,299.8" fill="none" stroke="#a82020" stroke-width="1.2"/>
<polygon points="307.7,299.5 316.9,299.5 316.9,308.7 307.7,308.7" fill="#fff" stroke="none"/><polygon points="312.3,299.5 316.9,299.5 316.9,308.7 312.3,308.7" fill="#fe0000" stroke="none"/><polygon points="307.7,299.5 316.9,299.5 316.9,308.7 307.7,308.7" fill="none" stroke="#a82020" stroke-width="1.2"/>
<polygon points="321.6,316.3 330.8,316.3 330.8,325.5 321.6,325.5" fill="#fff" stroke="none"/><polygon points="326.2,316.3 330.8,316.3 330.8,325.5 326.2,325.5" fill="#fe0000" stroke="none"/><polygon points="321.6,316.3 330.8,316.3 330.8,325.5 321.6,325.5" fill="none" stroke="#a82020" stroke-width="1.2"/>
<polygon points="336.3,327.9 345.5,327.9 345.5,337.1 336.3,337.1" fill="#fff" stroke="none"/><polygon points="340.9,327.9 345.5,327.9 345.5,337.1 340.9,337.1" fill="#fe0000" stroke="none"/><polygon points="336.3,327.9 345.5,327.9 345.5,337.1 336.3,337.1" fill="none" stroke="#a82020" stroke-width="1.2"/>
<polygon points="353.8,338.5 363,338.5 363,347.7 353.8,347.7" fill="#fff" stroke="none"/><polygon points="358.4,338.5 363,338.5 363,347.7 358.4,347.7" fill="#fe0000" stroke="none"/><polygon points="353.8,338.5 363,338.5 363,347.7 353.8,347.7" fill="none" stroke="#a82020" stroke-width="1.2"/>
<polygon points="364,345.1 373.2,345.1 373.2,354.3 364,354.3" fill="#fff" stroke="none"/><polygon points="368.6,345.1 373.2,345.1 373.2,354.3 368.6,354.3" fill="#fe0000" stroke="none"/><polygon points="364,345.1 373.2,345.1 373.2,354.3 364,354.3" fill="none" stroke="#a82020" stroke-width="1.2"/>
<polygon points="377.2,352.4 386.4,352.4 386.4,361.6 377.2,361.6" fill="#fff" stroke="none"/><polygon points="381.8,352.4 386.4,352.4 386.4,361.6 381.8,361.6" fill="#fe0000" stroke="none"/><polygon points="377.2,352.4 386.4,352.4 386.4,361.6 377.2,361.6" fill="none" stroke="#a82020" stroke-width="1.2"/>
<polygon points="385.9,357.5 395.1,357.5 395.1,366.7 385.9,366.7" fill="#fff" stroke="none"/><polygon points="390.5,357.5 395.1,357.5 395.1,366.7 390.5,366.7" fill="#fe0000" stroke="none"/><polygon points="385.9,357.5 395.1,357.5 395.1,366.7 385.9,366.7" fill="none" stroke="#a82020" stroke-width="1.2"/>
<polygon points="400,364.8 409.2,364.8 409.2,374 400,374" fill="#fff" stroke="none"/><polygon points="404.6,364.8 409.2,364.8 409.2,374 404.6,374" fill="#fe0000" stroke="none"/><polygon points="400,364.8 409.2,364.8 409.2,374 400,374" fill="none" stroke="#a82020" stroke-width="1.2"/>
<polygon points="413.1,373.5 422.3,373.5 422.3,382.7 413.1,382.7" fill="#fff" stroke="none"/><polygon points="417.7,373.5 422.3,373.5 422.3,382.7 417.7,382.7" fill="#fe0000" stroke="none"/><polygon points="413.1,373.5 422.3,373.5 422.3,382.7 413.1,382.7" fill="none" stroke="#a82020" stroke-width="1.2"/>
<polygon points="420.4,377.9 429.6,377.9 429.6,387.1 420.4,387.1" fill="#fff" stroke="none"/><polygon points="425,377.9 429.6,377.9 429.6,387.1 425,387.1" fill="#fe0000" stroke="none"/><polygon points="420.4,377.9 429.6,377.9 429.6,387.1 420.4,387.1" fill="none" stroke="#a82020" stroke-width="1.2"/>
<polygon points="429.2,383 438.4,383 438.4,392.2 429.2,392.2" fill="#fff" stroke="none"/><polygon points="433.8,383 438.4,383 438.4,392.2 433.8,392.2" fill="#fe0000" stroke="none"/><polygon points="429.2,383 438.4,383 438.4,392.2 429.2,392.2" fill="none" stroke="#a82020" stroke-width="1.2"/>
<polygon points="439.4,390.3 448.6,390.3 448.6,399.5 439.4,399.5" fill="#fff" stroke="none"/><polygon points="444,390.3 448.6,390.3 448.6,399.5 444,399.5" fill="#fe0000" stroke="none"/><polygon points="439.4,390.3 448.6,390.3 448.6,399.5 439.4,399.5" fill="none" stroke="#a82020" stroke-width="1.2"/>
<polygon points="446.7,393.2 455.9,393.2 455.9,402.4 446.7,402.4" fill="#fff" stroke="none"/><polygon points="451.3,393.2 455.9,393.2 455.9,402.4 451.3,402.4" fill="#fe0000" stroke="none"/><polygon points="446.7,393.2 455.9,393.2 455.9,402.4 446.7,402.4" fill="none" stroke="#a82020" stroke-width="1.2"/>
<polygon points="454,396.9 463.2,396.9 463.2,406.1 454,406.1" fill="#fff" stroke="none"/><polygon points="458.6,396.9 463.2,396.9 463.2,406.1 458.6,406.1" fill="#fe0000" stroke="none"/><polygon points="454,396.9 463.2,396.9 463.2,406.1 454,406.1" fill="none" stroke="#a82020" stroke-width="1.2"/>
<polygon points="461.3,399.8 470.5,399.8 470.5,409 461.3,409" fill="#fff" stroke="none"/><polygon points="465.9,399.8 470.5,399.8 470.5,409 465.9,409" fill="#fe0000" stroke="none"/><polygon points="461.3,399.8 470.5,399.8 470.5,409 461.3,409" fill="none" stroke="#a82020" stroke-width="1.2"/>
<polygon points="470.1,402.7 479.3,402.7 479.3,411.9 470.1,411.9" fill="#fff" stroke="none"/><polygon points="474.7,402.7 479.3,402.7 479.3,411.9 474.7,411.9" fill="#fe0000" stroke="none"/><polygon points="470.1,402.7 479.3,402.7 479.3,411.9 470.1,411.9" fill="none" stroke="#a82020" stroke-width="1.2"/>
<polygon points="475.9,407.1 485.1,407.1 485.1,416.3 475.9,416.3" fill="#fff" stroke="none"/><polygon points="480.5,407.1 485.1,407.1 485.1,416.3 480.5,416.3" fill="#fe0000" stroke="none"/><polygon points="475.9,407.1 485.1,407.1 485.1,416.3 475.9,416.3" fill="none" stroke="#a82020" stroke-width="1.2"/>
<polygon points="482.4,409.9 491.6,409.9 491.6,419.1 482.4,419.1" fill="#fff" stroke="none"/><polygon points="487,409.9 491.6,409.9 491.6,419.1 487,419.1" fill="#fe0000" stroke="none"/><polygon points="482.4,409.9 491.6,409.9 491.6,419.1 482.4,419.1" fill="none" stroke="#a82020" stroke-width="1.2"/>
<polygon points="660.9,458.4 670.1,458.4 670.1,467.6 660.9,467.6" fill="#fff" stroke="none"/><polygon points="665.5,458.4 670.1,458.4 670.1,467.6 665.5,467.6" fill="#fe0000" stroke="none"/><polygon points="660.9,458.4 670.1,458.4 670.1,467.6 660.9,467.6" fill="none" stroke="#a82020" stroke-width="1.2"/>
<polygon points="96,48 106,42.2 106,53.8" fill="#fff" stroke="none"/><polygon points="102.67,44.13 106,42.2 106,53.8 102.67,51.87" fill="#000" stroke="none"/><polygon points="96,48 106,42.2 106,53.8" fill="none" stroke="#000" stroke-width="1.2"/>
<polygon points="133,126 143,120.2 143,131.8" fill="#fff" stroke="none"/><polygon points="139.67,122.13 143,120.2 143,131.8 139.67,129.87" fill="#000" stroke="none"/><polygon points="133,126 143,120.2 143,131.8" fill="none" stroke="#000" stroke-width="1.2"/>
<polygon points="155.3,177 165.3,171.2 165.3,182.8" fill="#fff" stroke="none"/><polygon points="161.97,173.13 165.3,171.2 165.3,182.8 161.97,180.87" fill="#000" stroke="none"/><polygon points="155.3,177 165.3,171.2 165.3,182.8" fill="none" stroke="#000" stroke-width="1.2"/>
<polygon points="175,226.8 185,221 185,232.6" fill="#fff" stroke="none"/><polygon points="181.67,222.93 185,221 185,232.6 181.67,230.67" fill="#000" stroke="none"/><polygon points="175,226.8 185,221 185,232.6" fill="none" stroke="#000" stroke-width="1.2"/>
<polygon points="192,261 202,255.2 202,266.8" fill="#fff" stroke="none"/><polygon points="198.67,257.13 202,255.2 202,266.8 198.67,264.87" fill="#000" stroke="none"/><polygon points="192,261 202,255.2 202,266.8" fill="none" stroke="#000" stroke-width="1.2"/>
<polygon points="207.8,269.3 217.8,263.5 217.8,275.1" fill="#fff" stroke="none"/><polygon points="214.47,265.43 217.8,263.5 217.8,275.1 214.47,273.17" fill="#000" stroke="none"/><polygon points="207.8,269.3 217.8,263.5 217.8,275.1" fill="none" stroke="#000" stroke-width="1.2"/>
<polygon points="220.1,279.3 230.1,273.5 230.1,285.1" fill="#fff" stroke="none"/><polygon points="226.77,275.43 230.1,273.5 230.1,285.1 226.77,283.17" fill="#000" stroke="none"/><polygon points="220.1,279.3 230.1,273.5 230.1,285.1" fill="none" stroke="#000" stroke-width="1.2"/>
<polygon points="233,283.4 243,277.6 243,289.2" fill="#fff" stroke="none"/><polygon points="239.67,279.53 243,277.6 243,289.2 239.67,287.27" fill="#000" stroke="none"/><polygon points="233,283.4 243,277.6 243,289.2" fill="none" stroke="#000" stroke-width="1.2"/>
<polygon points="245.2,281.6 255.2,275.8 255.2,287.4" fill="#fff" stroke="none"/><polygon points="251.87,277.73 255.2,275.8 255.2,287.4 251.87,285.47" fill="#000" stroke="none"/><polygon points="245.2,281.6 255.2,275.8 255.2,287.4" fill="none" stroke="#000" stroke-width="1.2"/>
<polygon points="256.3,279.9 266.3,274.1 266.3,285.7" fill="#fff" stroke="none"/><polygon points="262.97,276.03 266.3,274.1 266.3,285.7 262.97,283.77" fill="#000" stroke="none"/><polygon points="256.3,279.9 266.3,274.1 266.3,285.7" fill="none" stroke="#000" stroke-width="1.2"/>
<polygon points="268.6,289.2 278.6,283.4 278.6,295" fill="#fff" stroke="none"/><polygon points="275.27,285.33 278.6,283.4 278.6,295 275.27,293.07" fill="#000" stroke="none"/><polygon points="268.6,289.2 278.6,283.4 278.6,295" fill="none" stroke="#000" stroke-width="1.2"/>
<polygon points="278.9,290.2 288.9,284.4 288.9,296" fill="#fff" stroke="none"/><polygon points="285.57,286.33 288.9,284.4 288.9,296 285.57,294.07" fill="#000" stroke="none"/><polygon points="278.9,290.2 288.9,284.4 288.9,296" fill="none" stroke="#000" stroke-width="1.2"/>
<polygon points="287.4,295.3 297.4,289.5 297.4,301.1" fill="#fff" stroke="none"/><polygon points="294.07,291.43 297.4,289.5 297.4,301.1 294.07,299.17" fill="#000" stroke="none"/><polygon points="287.4,295.3 297.4,289.5 297.4,301.1" fill="none" stroke="#000" stroke-width="1.2"/>
<polygon points="296.2,300.5 306.2,294.7 306.2,306.3" fill="#fff" stroke="none"/><polygon points="302.87,296.63 306.2,294.7 306.2,306.3 302.87,304.37" fill="#000" stroke="none"/><polygon points="296.2,300.5 306.2,294.7 306.2,306.3" fill="none" stroke="#000" stroke-width="1.2"/>
<polygon points="309.3,307.5 319.3,301.7 319.3,313.3" fill="#fff" stroke="none"/><polygon points="315.97,303.63 319.3,301.7 319.3,313.3 315.97,311.37" fill="#000" stroke="none"/><polygon points="309.3,307.5 319.3,301.7 319.3,313.3" fill="none" stroke="#000" stroke-width="1.2"/>
<polygon points="322.9,314 332.9,308.2 332.9,319.8" fill="#fff" stroke="none"/><polygon points="329.57,310.13 332.9,308.2 332.9,319.8 329.57,317.87" fill="#000" stroke="none"/><polygon points="322.9,314 332.9,308.2 332.9,319.8" fill="none" stroke="#000" stroke-width="1.2"/>
<polygon points="334.7,322 344.7,316.2 344.7,327.8" fill="#fff" stroke="none"/><polygon points="341.37,318.13 344.7,316.2 344.7,327.8 341.37,325.87" fill="#000" stroke="none"/><polygon points="334.7,322 344.7,316.2 344.7,327.8" fill="none" stroke="#000" stroke-width="1.2"/>
<polygon points="344.6,325 354.6,319.2 354.6,330.8" fill="#fff" stroke="none"/><polygon points="351.27,321.13 354.6,319.2 354.6,330.8 351.27,328.87" fill="#000" stroke="none"/><polygon points="344.6,325 354.6,319.2 354.6,330.8" fill="none" stroke="#000" stroke-width="1.2"/>
<polygon points="355,330.6 365,324.8 365,336.4" fill="#fff" stroke="none"/><polygon points="361.67,326.73 365,324.8 365,336.4 361.67,334.47" fill="#000" stroke="none"/><polygon points="355,330.6 365,324.8 365,336.4" fill="none" stroke="#000" stroke-width="1.2"/>
<polygon points="364.5,336.4 374.5,330.6 374.5,342.2" fill="#fff" stroke="none"/><polygon points="371.17,332.53 374.5,330.6 374.5,342.2 371.17,340.27" fill="#000" stroke="none"/><polygon points="364.5,336.4 374.5,330.6 374.5,342.2" fill="none" stroke="#000" stroke-width="1.2"/>
<polygon points="372,337.6 382,331.8 382,343.4" fill="#fff" stroke="none"/><polygon points="378.67,333.73 382,331.8 382,343.4 378.67,341.47" fill="#000" stroke="none"/><polygon points="372,337.6 382,331.8 382,343.4" fill="none" stroke="#000" stroke-width="1.2"/>
<polygon points="382.6,342.3 392.6,336.5 392.6,348.1" fill="#fff" stroke="none"/><polygon points="389.27,338.43 392.6,336.5 392.6,348.1 389.27,346.17" fill="#000" stroke="none"/><polygon points="382.6,342.3 392.6,336.5 392.6,348.1" fill="none" stroke="#000" stroke-width="1.2"/>
<polygon points="390,346.4 400,340.6 400,352.2" fill="#fff" stroke="none"/><polygon points="396.67,342.53 400,340.6 400,352.2 396.67,350.27" fill="#000" stroke="none"/><polygon points="390,346.4 400,340.6 400,352.2" fill="none" stroke="#000" stroke-width="1.2"/>
<polygon points="399.5,350.5 409.5,344.7 409.5,356.3" fill="#fff" stroke="none"/><polygon points="406.17,346.63 409.5,344.7 409.5,356.3 406.17,354.37" fill="#000" stroke="none"/><polygon points="399.5,350.5 409.5,344.7 409.5,356.3" fill="none" stroke="#000" stroke-width="1.2"/>
<polygon points="410,355.5 420,349.7 420,361.3" fill="#fff" stroke="none"/><polygon points="416.67,351.63 420,349.7 420,361.3 416.67,359.37" fill="#000" stroke="none"/><polygon points="410,355.5 420,349.7 420,361.3" fill="none" stroke="#000" stroke-width="1.2"/>
<polygon points="419.8,362.2 429.8,356.4 429.8,368" fill="#fff" stroke="none"/><polygon points="426.47,358.33 429.8,356.4 429.8,368 426.47,366.07" fill="#000" stroke="none"/><polygon points="419.8,362.2 429.8,356.4 429.8,368" fill="none" stroke="#000" stroke-width="1.2"/>
<polygon points="426.5,364.8 436.5,359 436.5,370.6" fill="#fff" stroke="none"/><polygon points="433.17,360.93 436.5,359 436.5,370.6 433.17,368.67" fill="#000" stroke="none"/><polygon points="426.5,364.8 436.5,359 436.5,370.6" fill="none" stroke="#000" stroke-width="1.2"/>
<polygon points="433,367.9 443,362.1 443,373.7" fill="#fff" stroke="none"/><polygon points="439.67,364.03 443,362.1 443,373.7 439.67,371.77" fill="#000" stroke="none"/><polygon points="433,367.9 443,362.1 443,373.7" fill="none" stroke="#000" stroke-width="1.2"/>
<polygon points="440,370.5 450,364.7 450,376.3" fill="#fff" stroke="none"/><polygon points="446.67,366.63 450,364.7 450,376.3 446.67,374.37" fill="#000" stroke="none"/><polygon points="440,370.5 450,364.7 450,376.3" fill="none" stroke="#000" stroke-width="1.2"/>
<polygon points="447,372.5 457,366.7 457,378.3" fill="#fff" stroke="none"/><polygon points="453.67,368.63 457,366.7 457,378.3 453.67,376.37" fill="#000" stroke="none"/><polygon points="447,372.5 457,366.7 457,378.3" fill="none" stroke="#000" stroke-width="1.2"/>
<polygon points="454,374.5 464,368.7 464,380.3" fill="#fff" stroke="none"/><polygon points="460.67,370.63 464,368.7 464,380.3 460.67,378.37" fill="#000" stroke="none"/><polygon points="454,374.5 464,368.7 464,380.3" fill="none" stroke="#000" stroke-width="1.2"/>
<polygon points="461.5,376 471.5,370.2 471.5,381.8" fill="#fff" stroke="none"/><polygon points="468.17,372.13 471.5,370.2 471.5,381.8 468.17,379.87" fill="#000" stroke="none"/><polygon points="461.5,376 471.5,370.2 471.5,381.8" fill="none" stroke="#000" stroke-width="1.2"/>
<polygon points="469.4,377.5 479.4,371.7 479.4,383.3" fill="#fff" stroke="none"/><polygon points="476.07,373.63 479.4,371.7 479.4,383.3 476.07,381.37" fill="#000" stroke="none"/><polygon points="469.4,377.5 479.4,371.7 479.4,383.3" fill="none" stroke="#000" stroke-width="1.2"/>
<polygon points="475,381.5 485,375.7 485,387.3" fill="#fff" stroke="none"/><polygon points="481.67,377.63 485,375.7 485,387.3 481.67,385.37" fill="#000" stroke="none"/><polygon points="475,381.5 485,375.7 485,387.3" fill="none" stroke="#000" stroke-width="1.2"/>
<polygon points="479.52,383.1 489.52,377.3 489.52,388.9" fill="#fff" stroke="none"/><polygon points="486.19,379.23 489.52,377.3 489.52,388.9 486.19,386.97" fill="#000" stroke="none"/><polygon points="479.52,383.1 489.52,377.3 489.52,388.9" fill="none" stroke="#000" stroke-width="1.2"/>
<polygon points="484.05,382.57 494.05,376.77 494.05,388.37" fill="#fff" stroke="none"/><polygon points="490.72,378.7 494.05,376.77 494.05,388.37 490.72,386.43" fill="#000" stroke="none"/><polygon points="484.05,382.57 494.05,376.77 494.05,388.37" fill="none" stroke="#000" stroke-width="1.2"/>
<polygon points="488.57,385.64 498.57,379.84 498.57,391.44" fill="#fff" stroke="none"/><polygon points="495.24,381.78 498.57,379.84 498.57,391.44 495.24,389.51" fill="#000" stroke="none"/><polygon points="488.57,385.64 498.57,379.84 498.57,391.44" fill="none" stroke="#000" stroke-width="1.2"/>
<polygon points="493.1,384.92 503.1,379.12 503.1,390.72" fill="#fff" stroke="none"/><polygon points="499.77,381.06 503.1,379.12 503.1,390.72 499.77,388.79" fill="#000" stroke="none"/><polygon points="493.1,384.92 503.1,379.12 503.1,390.72" fill="none" stroke="#000" stroke-width="1.2"/>
<polygon points="497.62,387.56 507.62,381.76 507.62,393.36" fill="#fff" stroke="none"/><polygon points="504.29,383.69 507.62,381.76 507.62,393.36 504.29,391.42" fill="#000" stroke="none"/><polygon points="497.62,387.56 507.62,381.76 507.62,393.36" fill="none" stroke="#000" stroke-width="1.2"/>
<polygon points="502.15,389.49 512.15,383.69 512.15,395.29" fill="#fff" stroke="none"/><polygon points="508.82,385.62 512.15,383.69 512.15,395.29 508.82,393.35" fill="#000" stroke="none"/><polygon points="502.15,389.49 512.15,383.69 512.15,395.29" fill="none" stroke="#000" stroke-width="1.2"/>
<polygon points="506.68,388.62 516.67,382.82 516.67,394.42" fill="#fff" stroke="none"/><polygon points="513.34,384.75 516.67,382.82 516.67,394.42 513.34,392.49" fill="#000" stroke="none"/><polygon points="506.68,388.62 516.67,382.82 516.67,394.42" fill="none" stroke="#000" stroke-width="1.2"/>
<polygon points="511.2,390.87 521.2,385.07 521.2,396.67" fill="#fff" stroke="none"/><polygon points="517.87,387 521.2,385.07 521.2,396.67 517.87,394.73" fill="#000" stroke="none"/><polygon points="511.2,390.87 521.2,385.07 521.2,396.67" fill="none" stroke="#000" stroke-width="1.2"/>
<polygon points="515.73,390.72 525.73,384.92 525.73,396.52" fill="#fff" stroke="none"/><polygon points="522.39,386.86 525.73,384.92 525.73,396.52 522.39,394.59" fill="#000" stroke="none"/><polygon points="515.73,390.72 525.73,384.92 525.73,396.52" fill="none" stroke="#000" stroke-width="1.2"/>
<polygon points="520.25,394.08 530.25,388.28 530.25,399.88" fill="#fff" stroke="none"/><polygon points="526.92,390.21 530.25,388.28 530.25,399.88 526.92,397.95" fill="#000" stroke="none"/><polygon points="520.25,394.08 530.25,388.28 530.25,399.88" fill="none" stroke="#000" stroke-width="1.2"/>
<polygon points="524.77,394.14 534.77,388.34 534.77,399.94" fill="#fff" stroke="none"/><polygon points="531.44,390.27 534.77,388.34 534.77,399.94 531.44,398" fill="#000" stroke="none"/><polygon points="524.77,394.14 534.77,388.34 534.77,399.94" fill="none" stroke="#000" stroke-width="1.2"/>
<polygon points="529.3,396.77 539.3,390.97 539.3,402.57" fill="#fff" stroke="none"/><polygon points="535.97,392.91 539.3,390.97 539.3,402.57 535.97,400.64" fill="#000" stroke="none"/><polygon points="529.3,396.77 539.3,390.97 539.3,402.57" fill="none" stroke="#000" stroke-width="1.2"/>
<polygon points="533.83,396.01 543.83,390.21 543.83,401.81" fill="#fff" stroke="none"/><polygon points="540.49,392.15 543.83,390.21 543.83,401.81 540.49,399.88" fill="#000" stroke="none"/><polygon points="533.83,396.01 543.83,390.21 543.83,401.81" fill="none" stroke="#000" stroke-width="1.2"/>
<polygon points="538.35,398.96 548.35,393.16 548.35,404.76" fill="#fff" stroke="none"/><polygon points="545.02,395.09 548.35,393.16 548.35,404.76 545.02,402.82" fill="#000" stroke="none"/><polygon points="538.35,398.96 548.35,393.16 548.35,404.76" fill="none" stroke="#000" stroke-width="1.2"/>
<polygon points="542.88,399.3 552.88,393.5 552.88,405.1" fill="#fff" stroke="none"/><polygon points="549.54,395.43 552.88,393.5 552.88,405.1 549.54,403.16" fill="#000" stroke="none"/><polygon points="542.88,399.3 552.88,393.5 552.88,405.1" fill="none" stroke="#000" stroke-width="1.2"/>
<polygon points="547.4,402.34 557.4,396.54 557.4,408.14" fill="#fff" stroke="none"/><polygon points="554.07,398.47 557.4,396.54 557.4,408.14 554.07,406.2" fill="#000" stroke="none"/><polygon points="547.4,402.34 557.4,396.54 557.4,408.14" fill="none" stroke="#000" stroke-width="1.2"/>
<polygon points="551.92,401.58 561.92,395.78 561.92,407.38" fill="#fff" stroke="none"/><polygon points="558.59,397.71 561.92,395.78 561.92,407.38 558.59,405.44" fill="#000" stroke="none"/><polygon points="551.92,401.58 561.92,395.78 561.92,407.38" fill="none" stroke="#000" stroke-width="1.2"/>
<polygon points="556.45,404.12 566.45,398.32 566.45,409.92" fill="#fff" stroke="none"/><polygon points="563.12,400.25 566.45,398.32 566.45,409.92 563.12,407.99" fill="#000" stroke="none"/><polygon points="556.45,404.12 566.45,398.32 566.45,409.92" fill="none" stroke="#000" stroke-width="1.2"/>
<polygon points="560.98,404.76 570.98,398.96 570.98,410.56" fill="#fff" stroke="none"/><polygon points="567.64,400.89 570.98,398.96 570.98,410.56 567.64,408.63" fill="#000" stroke="none"/><polygon points="560.98,404.76 570.98,398.96 570.98,410.56" fill="none" stroke="#000" stroke-width="1.2"/>
<polygon points="565.5,407.1 575.5,401.3 575.5,412.9" fill="#fff" stroke="none"/><polygon points="572.17,403.23 575.5,401.3 575.5,412.9 572.17,410.97" fill="#000" stroke="none"/><polygon points="565.5,407.1 575.5,401.3 575.5,412.9" fill="none" stroke="#000" stroke-width="1.2"/>
<polygon points="101.3,99.3 112.5,105.3 101.3,111.3" fill="#fff" stroke="none"/><polygon points="104.1,100.8 112.5,105.3 104.1,109.8" fill="#14f014" stroke="none"/><polygon points="101.3,99.3 112.5,105.3 101.3,111.3" fill="none" stroke="#12d812" stroke-width="1.2"/>
<polygon points="126.8,166.5 138,172.5 126.8,178.5" fill="#fff" stroke="none"/><polygon points="129.6,168 138,172.5 129.6,177" fill="#14f014" stroke="none"/><polygon points="126.8,166.5 138,172.5 126.8,178.5" fill="none" stroke="#12d812" stroke-width="1.2"/>
<polygon points="149.6,209.4 160.8,215.4 149.6,221.4" fill="#fff" stroke="none"/><polygon points="152.4,210.9 160.8,215.4 152.4,219.9" fill="#14f014" stroke="none"/><polygon points="149.6,209.4 160.8,215.4 149.6,221.4" fill="none" stroke="#12d812" stroke-width="1.2"/>
<polygon points="170.9,251.8 182.1,257.8 170.9,263.8" fill="#fff" stroke="none"/><polygon points="173.7,253.3 182.1,257.8 173.7,262.3" fill="#14f014" stroke="none"/><polygon points="170.9,251.8 182.1,257.8 170.9,263.8" fill="none" stroke="#12d812" stroke-width="1.2"/>
<polygon points="187.5,284.4 198.7,290.4 187.5,296.4" fill="#fff" stroke="none"/><polygon points="190.3,285.9 198.7,290.4 190.3,294.9" fill="#14f014" stroke="none"/><polygon points="187.5,284.4 198.7,290.4 187.5,296.4" fill="none" stroke="#12d812" stroke-width="1.2"/>
<polygon points="203.1,301.8 214.3,307.8 203.1,313.8" fill="#fff" stroke="none"/><polygon points="205.9,303.3 214.3,307.8 205.9,312.3" fill="#14f014" stroke="none"/><polygon points="203.1,301.8 214.3,307.8 203.1,313.8" fill="none" stroke="#12d812" stroke-width="1.2"/>
<polygon points="215.7,303.8 226.9,309.8 215.7,315.8" fill="#fff" stroke="none"/><polygon points="218.5,305.3 226.9,309.8 218.5,314.3" fill="#14f014" stroke="none"/><polygon points="215.7,303.8 226.9,309.8 215.7,315.8" fill="none" stroke="#12d812" stroke-width="1.2"/>
<polygon points="228.1,305.6 239.3,311.6 228.1,317.6" fill="#fff" stroke="none"/><polygon points="230.9,307.1 239.3,311.6 230.9,316.1" fill="#14f014" stroke="none"/><polygon points="228.1,305.6 239.3,311.6 228.1,317.6" fill="none" stroke="#12d812" stroke-width="1.2"/>
<polygon points="242.1,309.7 253.3,315.7 242.1,321.7" fill="#fff" stroke="none"/><polygon points="244.9,311.2 253.3,315.7 244.9,320.2" fill="#14f014" stroke="none"/><polygon points="242.1,309.7 253.3,315.7 242.1,321.7" fill="none" stroke="#12d812" stroke-width="1.2"/>
<polygon points="248.6,312.6 259.8,318.6 248.6,324.6" fill="#fff" stroke="none"/><polygon points="251.4,314.1 259.8,318.6 251.4,323.1" fill="#14f014" stroke="none"/><polygon points="248.6,312.6 259.8,318.6 248.6,324.6" fill="none" stroke="#12d812" stroke-width="1.2"/>
<polygon points="254.9,314.4 266.1,320.4 254.9,326.4" fill="#fff" stroke="none"/><polygon points="257.7,315.9 266.1,320.4 257.7,324.9" fill="#14f014" stroke="none"/><polygon points="254.9,314.4 266.1,320.4 254.9,326.4" fill="none" stroke="#12d812" stroke-width="1.2"/>
<polygon points="266,316.8 277.2,322.8 266,328.8" fill="#fff" stroke="none"/><polygon points="268.8,318.3 277.2,322.8 268.8,327.3" fill="#14f014" stroke="none"/><polygon points="266,316.8 277.2,322.8 266,328.8" fill="none" stroke="#12d812" stroke-width="1.2"/>
<polygon points="273.6,319.7 284.8,325.7 273.6,331.7" fill="#fff" stroke="none"/><polygon points="276.4,321.2 284.8,325.7 276.4,330.2" fill="#14f014" stroke="none"/><polygon points="273.6,319.7 284.8,325.7 273.6,331.7" fill="none" stroke="#12d812" stroke-width="1.2"/>
<polygon points="281.4,324 292.6,330 281.4,336" fill="#fff" stroke="none"/><polygon points="284.2,325.5 292.6,330 284.2,334.5" fill="#14f014" stroke="none"/><polygon points="281.4,324 292.6,330 281.4,336" fill="none" stroke="#12d812" stroke-width="1.2"/>
<polygon points="289.9,330.2 301.1,336.2 289.9,342.2" fill="#fff" stroke="none"/><polygon points="292.7,331.7 301.1,336.2 292.7,340.7" fill="#14f014" stroke="none"/><polygon points="289.9,330.2 301.1,336.2 289.9,342.2" fill="none" stroke="#12d812" stroke-width="1.2"/>
<polygon points="299.3,333.7 310.5,339.7 299.3,345.7" fill="#fff" stroke="none"/><polygon points="302.1,335.2 310.5,339.7 302.1,344.2" fill="#14f014" stroke="none"/><polygon points="299.3,333.7 310.5,339.7 299.3,345.7" fill="none" stroke="#12d812" stroke-width="1.2"/>
<polygon points="309.8,338.4 321,344.4 309.8,350.4" fill="#fff" stroke="none"/><polygon points="312.6,339.9 321,344.4 312.6,348.9" fill="#14f014" stroke="none"/><polygon points="309.8,338.4 321,344.4 309.8,350.4" fill="none" stroke="#12d812" stroke-width="1.2"/>
<polygon points="316.4,343 327.6,349 316.4,355" fill="#fff" stroke="none"/><polygon points="319.2,344.5 327.6,349 319.2,353.5" fill="#14f014" stroke="none"/><polygon points="316.4,343 327.6,349 316.4,355" fill="none" stroke="#12d812" stroke-width="1.2"/>
<polygon points="321.4,347.51 332.6,353.51 321.4,359.51" fill="#fff" stroke="none"/><polygon points="324.2,349.01 332.6,353.51 324.2,358.01" fill="#14f014" stroke="none"/><polygon points="321.4,347.51 332.6,353.51 321.4,359.51" fill="none" stroke="#12d812" stroke-width="1.2"/>
<polygon points="326.4,351.23 337.6,357.23 326.4,363.23" fill="#fff" stroke="none"/><polygon points="329.2,352.73 337.6,357.23 329.2,361.73" fill="#14f014" stroke="none"/><polygon points="326.4,351.23 337.6,357.23 326.4,363.23" fill="none" stroke="#12d812" stroke-width="1.2"/>
<polygon points="331.4,354.32 342.6,360.32 331.4,366.32" fill="#fff" stroke="none"/><polygon points="334.2,355.82 342.6,360.32 334.2,364.82" fill="#14f014" stroke="none"/><polygon points="331.4,354.32 342.6,360.32 331.4,366.32" fill="none" stroke="#12d812" stroke-width="1.2"/>
<polygon points="336.4,357.41 347.6,363.41 336.4,369.41" fill="#fff" stroke="none"/><polygon points="339.2,358.91 347.6,363.41 339.2,367.91" fill="#14f014" stroke="none"/><polygon points="336.4,357.41 347.6,363.41 336.4,369.41" fill="none" stroke="#12d812" stroke-width="1.2"/>
<polygon points="341.4,360.36 352.6,366.36 341.4,372.36" fill="#fff" stroke="none"/><polygon points="344.2,361.86 352.6,366.36 344.2,370.86" fill="#14f014" stroke="none"/><polygon points="341.4,360.36 352.6,366.36 341.4,372.36" fill="none" stroke="#12d812" stroke-width="1.2"/>
<polygon points="346.4,363.05 357.6,369.05 346.4,375.05" fill="#fff" stroke="none"/><polygon points="349.2,364.55 357.6,369.05 349.2,373.55" fill="#14f014" stroke="none"/><polygon points="346.4,363.05 357.6,369.05 346.4,375.05" fill="none" stroke="#12d812" stroke-width="1.2"/>
<polygon points="351.4,364.8 362.6,370.8 351.4,376.8" fill="#fff" stroke="none"/><polygon points="354.2,366.3 362.6,370.8 354.2,375.3" fill="#14f014" stroke="none"/><polygon points="351.4,364.8 362.6,370.8 351.4,376.8" fill="none" stroke="#12d812" stroke-width="1.2"/>
<polygon points="356.4,366.54 367.6,372.54 356.4,378.54" fill="#fff" stroke="none"/><polygon points="359.2,368.04 367.6,372.54 359.2,377.04" fill="#14f014" stroke="none"/><polygon points="356.4,366.54 367.6,372.54 356.4,378.54" fill="none" stroke="#12d812" stroke-width="1.2"/>
<polygon points="361.4,368.27 372.6,374.27 361.4,380.27" fill="#fff" stroke="none"/><polygon points="364.2,369.77 372.6,374.27 364.2,378.77" fill="#14f014" stroke="none"/><polygon points="361.4,368.27 372.6,374.27 361.4,380.27" fill="none" stroke="#12d812" stroke-width="1.2"/>
<polygon points="366.4,369.86 377.6,375.86 366.4,381.86" fill="#fff" stroke="none"/><polygon points="369.2,371.36 377.6,375.86 369.2,380.36" fill="#14f014" stroke="none"/><polygon points="366.4,369.86 377.6,375.86 366.4,381.86" fill="none" stroke="#12d812" stroke-width="1.2"/>
<polygon points="371.4,371.27 382.6,377.27 371.4,383.27" fill="#fff" stroke="none"/><polygon points="374.2,372.77 382.6,377.27 374.2,381.77" fill="#14f014" stroke="none"/><polygon points="371.4,371.27 382.6,377.27 371.4,383.27" fill="none" stroke="#12d812" stroke-width="1.2"/>
<polygon points="376.4,373.5 387.6,379.5 376.4,385.5" fill="#fff" stroke="none"/><polygon points="379.2,375 387.6,379.5 379.2,384" fill="#14f014" stroke="none"/><polygon points="376.4,373.5 387.6,379.5 376.4,385.5" fill="none" stroke="#12d812" stroke-width="1.2"/>
<polygon points="381.4,377.32 392.6,383.32 381.4,389.32" fill="#fff" stroke="none"/><polygon points="384.2,378.82 392.6,383.32 384.2,387.82" fill="#14f014" stroke="none"/><polygon points="381.4,377.32 392.6,383.32 381.4,389.32" fill="none" stroke="#12d812" stroke-width="1.2"/>
<polygon points="386.4,380.6 397.6,386.6 386.4,392.6" fill="#fff" stroke="none"/><polygon points="389.2,382.1 397.6,386.6 389.2,391.1" fill="#14f014" stroke="none"/><polygon points="386.4,380.6 397.6,386.6 386.4,392.6" fill="none" stroke="#12d812" stroke-width="1.2"/>
<polygon points="391.4,382.6 402.6,388.6 391.4,394.6" fill="#fff" stroke="none"/><polygon points="394.2,384.1 402.6,388.6 394.2,393.1" fill="#14f014" stroke="none"/><polygon points="391.4,382.6 402.6,388.6 391.4,394.6" fill="none" stroke="#12d812" stroke-width="1.2"/>
<polygon points="396.4,384.6 407.6,390.6 396.4,396.6" fill="#fff" stroke="none"/><polygon points="399.2,386.1 407.6,390.6 399.2,395.1" fill="#14f014" stroke="none"/><polygon points="396.4,384.6 407.6,390.6 396.4,396.6" fill="none" stroke="#12d812" stroke-width="1.2"/>
<polygon points="401.4,386.6 412.6,392.6 401.4,398.6" fill="#fff" stroke="none"/><polygon points="404.2,388.1 412.6,392.6 404.2,397.1" fill="#14f014" stroke="none"/><polygon points="401.4,386.6 412.6,392.6 401.4,398.6" fill="none" stroke="#12d812" stroke-width="1.2"/>
<polygon points="406.4,388.6 417.6,394.6 406.4,400.6" fill="#fff" stroke="none"/><polygon points="409.2,390.1 417.6,394.6 409.2,399.1" fill="#14f014" stroke="none"/><polygon points="406.4,388.6 417.6,394.6 406.4,400.6" fill="none" stroke="#12d812" stroke-width="1.2"/>
<polygon points="411.4,390.6 422.6,396.6 411.4,402.6" fill="#fff" stroke="none"/><polygon points="414.2,392.1 422.6,396.6 414.2,401.1" fill="#14f014" stroke="none"/><polygon points="411.4,390.6 422.6,396.6 411.4,402.6" fill="none" stroke="#12d812" stroke-width="1.2"/>
<polygon points="416.4,392.53 427.6,398.53 416.4,404.53" fill="#fff" stroke="none"/><polygon points="419.2,394.03 427.6,398.53 419.2,403.03" fill="#14f014" stroke="none"/><polygon points="416.4,392.53 427.6,398.53 416.4,404.53" fill="none" stroke="#12d812" stroke-width="1.2"/>
<polygon points="421.4,394.37 432.6,400.37 421.4,406.37" fill="#fff" stroke="none"/><polygon points="424.2,395.87 432.6,400.37 424.2,404.87" fill="#14f014" stroke="none"/><polygon points="421.4,394.37 432.6,400.37 421.4,406.37" fill="none" stroke="#12d812" stroke-width="1.2"/>
<polygon points="426.4,396.2 437.6,402.2 426.4,408.2" fill="#fff" stroke="none"/><polygon points="429.2,397.7 437.6,402.2 429.2,406.7" fill="#14f014" stroke="none"/><polygon points="426.4,396.2 437.6,402.2 426.4,408.2" fill="none" stroke="#12d812" stroke-width="1.2"/>
<polygon points="431.4,398.03 442.6,404.03 431.4,410.03" fill="#fff" stroke="none"/><polygon points="434.2,399.53 442.6,404.03 434.2,408.53" fill="#14f014" stroke="none"/><polygon points="431.4,398.03 442.6,404.03 431.4,410.03" fill="none" stroke="#12d812" stroke-width="1.2"/>
<polygon points="436.4,399.87 447.6,405.87 436.4,411.87" fill="#fff" stroke="none"/><polygon points="439.2,401.37 447.6,405.87 439.2,410.37" fill="#14f014" stroke="none"/><polygon points="436.4,399.87 447.6,405.87 436.4,411.87" fill="none" stroke="#12d812" stroke-width="1.2"/>
<polygon points="441.4,401.7 452.6,407.7 441.4,413.7" fill="#fff" stroke="none"/><polygon points="444.2,403.2 452.6,407.7 444.2,412.2" fill="#14f014" stroke="none"/><polygon points="441.4,401.7 452.6,407.7 441.4,413.7" fill="none" stroke="#12d812" stroke-width="1.2"/>
<polygon points="446.4,403.38 457.6,409.38 446.4,415.38" fill="#fff" stroke="none"/><polygon points="449.2,404.88 457.6,409.38 449.2,413.88" fill="#14f014" stroke="none"/><polygon points="446.4,403.38 457.6,409.38 446.4,415.38" fill="none" stroke="#12d812" stroke-width="1.2"/>
<polygon points="451.4,404.83 462.6,410.83 451.4,416.83" fill="#fff" stroke="none"/><polygon points="454.2,406.33 462.6,410.83 454.2,415.33" fill="#14f014" stroke="none"/><polygon points="451.4,404.83 462.6,410.83 451.4,416.83" fill="none" stroke="#12d812" stroke-width="1.2"/>
<polygon points="456.4,406.27 467.6,412.27 456.4,418.27" fill="#fff" stroke="none"/><polygon points="459.2,407.77 467.6,412.27 459.2,416.77" fill="#14f014" stroke="none"/><polygon points="456.4,406.27 467.6,412.27 456.4,418.27" fill="none" stroke="#12d812" stroke-width="1.2"/>
<polygon points="461.4,407.72 472.6,413.72 461.4,419.72" fill="#fff" stroke="none"/><polygon points="464.2,409.22 472.6,413.72 464.2,418.22" fill="#14f014" stroke="none"/><polygon points="461.4,407.72 472.6,413.72 461.4,419.72" fill="none" stroke="#12d812" stroke-width="1.2"/>
<polygon points="466.4,409.17 477.6,415.17 466.4,421.17" fill="#fff" stroke="none"/><polygon points="469.2,410.67 477.6,415.17 469.2,419.67" fill="#14f014" stroke="none"/><polygon points="466.4,409.17 477.6,415.17 466.4,421.17" fill="none" stroke="#12d812" stroke-width="1.2"/>
<polygon points="471.4,410.62 482.6,416.62 471.4,422.62" fill="#fff" stroke="none"/><polygon points="474.2,412.12 482.6,416.62 474.2,421.12" fill="#14f014" stroke="none"/><polygon points="471.4,410.62 482.6,416.62 471.4,422.62" fill="none" stroke="#12d812" stroke-width="1.2"/>
<polygon points="476.4,412.07 487.6,418.07 476.4,424.07" fill="#fff" stroke="none"/><polygon points="479.2,413.57 487.6,418.07 479.2,422.57" fill="#14f014" stroke="none"/><polygon points="476.4,412.07 487.6,418.07 476.4,424.07" fill="none" stroke="#12d812" stroke-width="1.2"/>
<polygon points="481.4,414.3 492.6,420.3 481.4,426.3" fill="#fff" stroke="none"/><polygon points="484.2,415.8 492.6,420.3 484.2,424.8" fill="#14f014" stroke="none"/><polygon points="481.4,414.3 492.6,420.3 481.4,426.3" fill="none" stroke="#12d812" stroke-width="1.2"/>
<polygon points="486.4,416.88 497.6,422.88 486.4,428.88" fill="#fff" stroke="none"/><polygon points="489.2,418.38 497.6,422.88 489.2,427.38" fill="#14f014" stroke="none"/><polygon points="486.4,416.88 497.6,422.88 486.4,428.88" fill="none" stroke="#12d812" stroke-width="1.2"/>
<polygon points="491.4,419.45 502.6,425.45 491.4,431.45" fill="#fff" stroke="none"/><polygon points="494.2,420.95 502.6,425.45 494.2,429.95" fill="#14f014" stroke="none"/><polygon points="491.4,419.45 502.6,425.45 491.4,431.45" fill="none" stroke="#12d812" stroke-width="1.2"/>
<polygon points="496.4,421.96 507.6,427.96 496.4,433.96" fill="#fff" stroke="none"/><polygon points="499.2,423.46 507.6,427.96 499.2,432.46" fill="#14f014" stroke="none"/><polygon points="496.4,421.96 507.6,427.96 496.4,433.96" fill="none" stroke="#12d812" stroke-width="1.2"/>
<polygon points="501.4,424.36 512.6,430.36 501.4,436.36" fill="#fff" stroke="none"/><polygon points="504.2,425.86 512.6,430.36 504.2,434.86" fill="#14f014" stroke="none"/><polygon points="501.4,424.36 512.6,430.36 501.4,436.36" fill="none" stroke="#12d812" stroke-width="1.2"/>
<polygon points="506.4,426.76 517.6,432.76 506.4,438.76" fill="#fff" stroke="none"/><polygon points="509.2,428.26 517.6,432.76 509.2,437.26" fill="#14f014" stroke="none"/><polygon points="506.4,426.76 517.6,432.76 506.4,438.76" fill="none" stroke="#12d812" stroke-width="1.2"/>
<polygon points="511.4,428.82 522.6,434.82 511.4,440.82" fill="#fff" stroke="none"/><polygon points="514.2,430.32 522.6,434.82 514.2,439.32" fill="#14f014" stroke="none"/><polygon points="511.4,428.82 522.6,434.82 511.4,440.82" fill="none" stroke="#12d812" stroke-width="1.2"/>
<polygon points="516.4,430.38 527.6,436.38 516.4,442.38" fill="#fff" stroke="none"/><polygon points="519.2,431.88 527.6,436.38 519.2,440.88" fill="#14f014" stroke="none"/><polygon points="516.4,430.38 527.6,436.38 516.4,442.38" fill="none" stroke="#12d812" stroke-width="1.2"/>
<polygon points="521.4,432.2 532.6,438.2 521.4,444.2" fill="#fff" stroke="none"/><polygon points="524.2,433.7 532.6,438.2 524.2,442.7" fill="#14f014" stroke="none"/><polygon points="521.4,432.2 532.6,438.2 521.4,444.2" fill="none" stroke="#12d812" stroke-width="1.2"/>
<polygon points="523.93,432.95 535.13,438.95 523.93,444.95" fill="#fff" stroke="none"/><polygon points="526.73,434.45 535.13,438.95 526.73,443.45" fill="#14f014" stroke="none"/><polygon points="523.93,432.95 535.13,438.95 523.93,444.95" fill="none" stroke="#12d812" stroke-width="1.2"/>
<polygon points="526.43,433.68 537.63,439.68 526.43,445.68" fill="#fff" stroke="none"/><polygon points="529.23,435.18 537.63,439.68 529.23,444.18" fill="#14f014" stroke="none"/><polygon points="526.43,433.68 537.63,439.68 526.43,445.68" fill="none" stroke="#12d812" stroke-width="1.2"/>
<polygon points="528.89,434.4 540.09,440.4 528.89,446.4" fill="#fff" stroke="none"/><polygon points="531.69,435.9 540.09,440.4 531.69,444.9" fill="#14f014" stroke="none"/><polygon points="528.89,434.4 540.09,440.4 528.89,446.4" fill="none" stroke="#12d812" stroke-width="1.2"/>
<polygon points="531.31,435.12 542.51,441.12 531.31,447.12" fill="#fff" stroke="none"/><polygon points="534.11,436.62 542.51,441.12 534.11,445.62" fill="#14f014" stroke="none"/><polygon points="531.31,435.12 542.51,441.12 531.31,447.12" fill="none" stroke="#12d812" stroke-width="1.2"/>
<polygon points="533.7,435.82 544.9,441.82 533.7,447.82" fill="#fff" stroke="none"/><polygon points="536.5,437.32 544.9,441.82 536.5,446.32" fill="#14f014" stroke="none"/><polygon points="533.7,435.82 544.9,441.82 533.7,447.82" fill="none" stroke="#12d812" stroke-width="1.2"/>
<polygon points="536.05,436.51 547.25,442.51 536.05,448.51" fill="#fff" stroke="none"/><polygon points="538.85,438.01 547.25,442.51 538.85,447.01" fill="#14f014" stroke="none"/><polygon points="536.05,436.51 547.25,442.51 536.05,448.51" fill="none" stroke="#12d812" stroke-width="1.2"/>
<polygon points="538.38,437.2 549.58,443.2 538.38,449.2" fill="#fff" stroke="none"/><polygon points="541.18,438.7 549.58,443.2 541.18,447.7" fill="#14f014" stroke="none"/><polygon points="538.38,437.2 549.58,443.2 538.38,449.2" fill="none" stroke="#12d812" stroke-width="1.2"/>
<polygon points="540.67,437.9 551.87,443.9 540.67,449.9" fill="#fff" stroke="none"/><polygon points="543.47,439.4 551.87,443.9 543.47,448.4" fill="#14f014" stroke="none"/><polygon points="540.67,437.9 551.87,443.9 540.67,449.9" fill="none" stroke="#12d812" stroke-width="1.2"/>
<polygon points="542.93,438.62 554.13,444.62 542.93,450.62" fill="#fff" stroke="none"/><polygon points="545.73,440.12 554.13,444.62 545.73,449.12" fill="#14f014" stroke="none"/><polygon points="542.93,438.62 554.13,444.62 542.93,450.62" fill="none" stroke="#12d812" stroke-width="1.2"/>
<polygon points="545.16,439.33 556.36,445.33 545.16,451.33" fill="#fff" stroke="none"/><polygon points="547.96,440.83 556.36,445.33 547.96,449.83" fill="#14f014" stroke="none"/><polygon points="545.16,439.33 556.36,445.33 545.16,451.33" fill="none" stroke="#12d812" stroke-width="1.2"/>
<polygon points="547.37,440.02 558.57,446.02 547.37,452.02" fill="#fff" stroke="none"/><polygon points="550.17,441.52 558.57,446.02 550.17,450.52" fill="#14f014" stroke="none"/><polygon points="547.37,440.02 558.57,446.02 547.37,452.02" fill="none" stroke="#12d812" stroke-width="1.2"/>
<polygon points="549.54,440.71 560.74,446.71 549.54,452.71" fill="#fff" stroke="none"/><polygon points="552.34,442.21 560.74,446.71 552.34,451.21" fill="#14f014" stroke="none"/><polygon points="549.54,440.71 560.74,446.71 549.54,452.71" fill="none" stroke="#12d812" stroke-width="1.2"/>
<polygon points="551.69,441.39 562.89,447.39 551.69,453.39" fill="#fff" stroke="none"/><polygon points="554.49,442.89 562.89,447.39 554.49,451.89" fill="#14f014" stroke="none"/><polygon points="551.69,441.39 562.89,447.39 551.69,453.39" fill="none" stroke="#12d812" stroke-width="1.2"/>
<polygon points="553.81,442.06 565.01,448.06 553.81,454.06" fill="#fff" stroke="none"/><polygon points="556.61,443.56 565.01,448.06 556.61,452.56" fill="#14f014" stroke="none"/><polygon points="553.81,442.06 565.01,448.06 553.81,454.06" fill="none" stroke="#12d812" stroke-width="1.2"/>
<polygon points="555.9,442.73 567.1,448.73 555.9,454.73" fill="#fff" stroke="none"/><polygon points="558.7,444.23 567.1,448.73 558.7,453.23" fill="#14f014" stroke="none"/><polygon points="555.9,442.73 567.1,448.73 555.9,454.73" fill="none" stroke="#12d812" stroke-width="1.2"/>
<polygon points="557.97,443.38 569.17,449.38 557.97,455.38" fill="#fff" stroke="none"/><polygon points="560.77,444.88 569.17,449.38 560.77,453.88" fill="#14f014" stroke="none"/><polygon points="557.97,443.38 569.17,449.38 557.97,455.38" fill="none" stroke="#12d812" stroke-width="1.2"/>
<polygon points="560.02,444.03 571.22,450.03 560.02,456.03" fill="#fff" stroke="none"/><polygon points="562.82,445.53 571.22,450.03 562.82,454.53" fill="#14f014" stroke="none"/><polygon points="560.02,444.03 571.22,450.03 560.02,456.03" fill="none" stroke="#12d812" stroke-width="1.2"/>
<polygon points="562.04,444.67 573.24,450.67 562.04,456.67" fill="#fff" stroke="none"/><polygon points="564.84,446.17 573.24,450.67 564.84,455.17" fill="#14f014" stroke="none"/><polygon points="562.04,444.67 573.24,450.67 562.04,456.67" fill="none" stroke="#12d812" stroke-width="1.2"/>
<polygon points="564.03,445.3 575.23,451.3 564.03,457.3" fill="#fff" stroke="none"/><polygon points="566.83,446.8 575.23,451.3 566.83,455.8" fill="#14f014" stroke="none"/><polygon points="564.03,445.3 575.23,451.3 564.03,457.3" fill="none" stroke="#12d812" stroke-width="1.2"/>
<polygon points="566.01,445.93 577.21,451.93 566.01,457.93" fill="#fff" stroke="none"/><polygon points="568.81,447.43 577.21,451.93 568.81,456.43" fill="#14f014" stroke="none"/><polygon points="566.01,445.93 577.21,451.93 566.01,457.93" fill="none" stroke="#12d812" stroke-width="1.2"/>
<polygon points="567.96,446.54 579.16,452.54 567.96,458.54" fill="#fff" stroke="none"/><polygon points="570.76,448.04 579.16,452.54 570.76,457.04" fill="#14f014" stroke="none"/><polygon points="567.96,446.54 579.16,452.54 567.96,458.54" fill="none" stroke="#12d812" stroke-width="1.2"/>
<polygon points="152.41,128.51 158.41,134.51 152.41,140.51 146.41,134.51" fill="#fff" stroke="#d21fd2" stroke-width="2.2"/>
<polygon points="196.62,162.43 202.62,168.43 196.62,174.43 190.62,168.43" fill="#fff" stroke="#d21fd2" stroke-width="2.2"/>
<polygon points="231.66,187.28 237.66,193.28 231.66,199.28 225.66,193.28" fill="#fff" stroke="#d21fd2" stroke-width="2.2"/>
<polygon points="260.69,210.94 266.69,216.94 260.69,222.94 254.69,216.94" fill="#fff" stroke="#d21fd2" stroke-width="2.2"/>
<polygon points="285.47,225.95 291.47,231.95 285.47,237.95 279.47,231.95" fill="#fff" stroke="#d21fd2" stroke-width="2.2"/>
<polygon points="307.09,242.48 313.09,248.48 307.09,254.48 301.09,248.48" fill="#fff" stroke="#d21fd2" stroke-width="2.2"/>
<polygon points="326.26,255.71 332.26,261.71 326.26,267.71 320.26,261.71" fill="#fff" stroke="#d21fd2" stroke-width="2.2"/>
<polygon points="343.49,261.97 349.49,267.97 343.49,273.97 337.49,267.97" fill="#fff" stroke="#d21fd2" stroke-width="2.2"/>
<polygon points="359.12,267.3 365.12,273.3 359.12,279.3 353.12,273.3" fill="#fff" stroke="#d21fd2" stroke-width="2.2"/>
<polygon points="373.44,291.71 379.44,297.71 373.44,303.71 367.44,297.71" fill="#fff" stroke="#d21fd2" stroke-width="2.2"/>
<polygon points="386.64,294.75 392.64,300.75 386.64,306.75 380.64,300.75" fill="#fff" stroke="#d21fd2" stroke-width="2.2"/>
<polygon points="398.89,304.55 404.89,310.55 398.89,316.55 392.89,310.55" fill="#fff" stroke="#d21fd2" stroke-width="2.2"/>
<polygon points="410.31,318.31 416.31,324.31 410.31,330.31 404.31,324.31" fill="#fff" stroke="#d21fd2" stroke-width="2.2"/>
<polygon points="421.01,329.36 427.01,335.36 421.01,341.36 415.01,335.36" fill="#fff" stroke="#d21fd2" stroke-width="2.2"/>
<polygon points="431.08,340.62 437.08,346.62 431.08,352.62 425.08,346.62" fill="#fff" stroke="#d21fd2" stroke-width="2.2"/>
<polygon points="440.58,347.59 446.58,353.59 440.58,359.59 434.58,353.59" fill="#fff" stroke="#d21fd2" stroke-width="2.2"/>
<polygon points="449.58,353.72 455.58,359.72 449.58,365.72 443.58,359.72" fill="#fff" stroke="#d21fd2" stroke-width="2.2"/>
<polygon points="458.13,361.02 464.13,367.02 458.13,373.02 452.13,367.02" fill="#fff" stroke="#d21fd2" stroke-width="2.2"/>
<polygon points="466.26,366.77 472.26,372.77 466.26,378.77 460.26,372.77" fill="#fff" stroke="#d21fd2" stroke-width="2.2"/>
<polygon points="474.03,373.82 480.03,379.82 474.03,385.82 468.03,379.82" fill="#fff" stroke="#d21fd2" stroke-width="2.2"/>
<polygon points="481.45,379.66 487.45,385.66 481.45,391.66 475.45,385.66" fill="#fff" stroke="#d21fd2" stroke-width="2.2"/>
<polygon points="488.56,384.97 494.56,390.97 488.56,396.97 482.56,390.97" fill="#fff" stroke="#d21fd2" stroke-width="2.2"/>
<polygon points="495.39,390.06 501.39,396.06 495.39,402.06 489.39,396.06" fill="#fff" stroke="#d21fd2" stroke-width="2.2"/>
<polygon points="501.95,394.58 507.95,400.58 501.95,406.58 495.95,400.58" fill="#fff" stroke="#d21fd2" stroke-width="2.2"/>
<polygon points="508.27,398.08 514.27,404.08 508.27,410.08 502.27,404.08" fill="#fff" stroke="#d21fd2" stroke-width="2.2"/>
<polygon points="514.36,401.45 520.36,407.45 514.36,413.45 508.36,407.45" fill="#fff" stroke="#d21fd2" stroke-width="2.2"/>
<polygon points="520.24,404.6 526.24,410.6 520.24,416.6 514.24,410.6" fill="#fff" stroke="#d21fd2" stroke-width="2.2"/>
<polygon points="525.93,407.63 531.93,413.63 525.93,419.63 519.93,413.63" fill="#fff" stroke="#d21fd2" stroke-width="2.2"/>
<polygon points="531.42,410.52 537.42,416.52 531.42,422.52 525.42,416.52" fill="#fff" stroke="#d21fd2" stroke-width="2.2"/>
<polygon points="536.75,413.22 542.75,419.22 536.75,425.22 530.75,419.22" fill="#fff" stroke="#d21fd2" stroke-width="2.2"/>
<polygon points="541.91,415.84 547.91,421.84 541.91,427.84 535.91,421.84" fill="#fff" stroke="#d21fd2" stroke-width="2.2"/>
<polygon points="546.93,418.07 552.93,424.07 546.93,430.07 540.93,424.07" fill="#fff" stroke="#d21fd2" stroke-width="2.2"/>
<polygon points="551.79,419.76 557.79,425.76 551.79,431.76 545.79,425.76" fill="#fff" stroke="#d21fd2" stroke-width="2.2"/>
<polygon points="556.53,421.4 562.53,427.4 556.53,433.4 550.53,427.4" fill="#fff" stroke="#d21fd2" stroke-width="2.2"/>
<polygon points="561.13,423.02 567.13,429.02 561.13,435.02 555.13,429.02" fill="#fff" stroke="#d21fd2" stroke-width="2.2"/>
<polygon points="565.61,424.7 571.61,430.7 565.61,436.7 559.61,430.7" fill="#fff" stroke="#d21fd2" stroke-width="2.2"/>
<polygon points="569.98,426.33 575.98,432.33 569.98,438.33 563.98,432.33" fill="#fff" stroke="#d21fd2" stroke-width="2.2"/>
<polygon points="574.24,427.91 580.24,433.91 574.24,439.91 568.24,433.91" fill="#fff" stroke="#d21fd2" stroke-width="2.2"/>
<polygon points="578.39,429.15 584.39,435.15 578.39,441.15 572.39,435.15" fill="#fff" stroke="#d21fd2" stroke-width="2.2"/>
<polygon points="582.44,430.28 588.44,436.28 582.44,442.28 576.44,436.28" fill="#fff" stroke="#d21fd2" stroke-width="2.2"/>
<polygon points="586.4,431.39 592.4,437.39 586.4,443.39 580.4,437.39" fill="#fff" stroke="#d21fd2" stroke-width="2.2"/>
<polygon points="590.27,432.48 596.27,438.48 590.27,444.48 584.27,438.48" fill="#fff" stroke="#d21fd2" stroke-width="2.2"/>
<polygon points="594.05,433.53 600.05,439.53 594.05,445.53 588.05,439.53" fill="#fff" stroke="#d21fd2" stroke-width="2.2"/>
<polygon points="597.75,434.53 603.75,440.53 597.75,446.53 591.75,440.53" fill="#fff" stroke="#d21fd2" stroke-width="2.2"/>
<polygon points="601.37,435.5 607.37,441.5 601.37,447.5 595.37,441.5" fill="#fff" stroke="#d21fd2" stroke-width="2.2"/>
<polygon points="604.92,436.45 610.92,442.45 604.92,448.45 598.92,442.45" fill="#fff" stroke="#d21fd2" stroke-width="2.2"/>
<polygon points="608.39,437.37 614.39,443.37 608.39,449.37 602.39,443.37" fill="#fff" stroke="#d21fd2" stroke-width="2.2"/>
<polygon points="611.8,438.28 617.8,444.28 611.8,450.28 605.8,444.28" fill="#fff" stroke="#d21fd2" stroke-width="2.2"/>
<polygon points="615.13,439.17 621.13,445.17 615.13,451.17 609.13,445.17" fill="#fff" stroke="#d21fd2" stroke-width="2.2"/>
<polygon points="618.4,440.04 624.4,446.04 618.4,452.04 612.4,446.04" fill="#fff" stroke="#d21fd2" stroke-width="2.2"/>
<polygon points="621.61,440.9 627.61,446.9 621.61,452.9 615.61,446.9" fill="#fff" stroke="#d21fd2" stroke-width="2.2"/>
<polygon points="624.76,441.74 630.76,447.74 624.76,453.74 618.76,447.74" fill="#fff" stroke="#d21fd2" stroke-width="2.2"/>
<polygon points="627.86,443.17 633.86,449.17 627.86,455.17 621.86,449.17" fill="#fff" stroke="#d21fd2" stroke-width="2.2"/>
<polygon points="630.9,444.63 636.9,450.63 630.9,456.63 624.9,450.63" fill="#fff" stroke="#d21fd2" stroke-width="2.2"/>
<polygon points="633.88,446.06 639.88,452.06 633.88,458.06 627.88,452.06" fill="#fff" stroke="#d21fd2" stroke-width="2.2"/>
<polygon points="636.81,447.47 642.81,453.47 636.81,459.47 630.81,453.47" fill="#fff" stroke="#d21fd2" stroke-width="2.2"/>
<polygon points="639.7,448.85 645.7,454.85 639.7,460.85 633.7,454.85" fill="#fff" stroke="#d21fd2" stroke-width="2.2"/>
<polygon points="642.53,450.31 648.53,456.31 642.53,462.31 636.53,456.31" fill="#fff" stroke="#d21fd2" stroke-width="2.2"/>
<polygon points="645.32,451.75 651.32,457.75 645.32,463.75 639.32,457.75" fill="#fff" stroke="#d21fd2" stroke-width="2.2"/>
<polygon points="648.06,453.16 654.06,459.16 648.06,465.16 642.06,459.16" fill="#fff" stroke="#d21fd2" stroke-width="2.2"/>
<polygon points="650.76,454.56 656.76,460.56 650.76,466.56 644.76,460.56" fill="#fff" stroke="#d21fd2" stroke-width="2.2"/>
<polygon points="653.42,455.93 659.42,461.93 653.42,467.93 647.42,461.93" fill="#fff" stroke="#d21fd2" stroke-width="2.2"/>
<polygon points="656.03,457.28 662.03,463.28 656.03,469.28 650.03,463.28" fill="#fff" stroke="#d21fd2" stroke-width="2.2"/>
<polygon points="658.61,458.61 664.61,464.61 658.61,470.61 652.61,464.61" fill="#fff" stroke="#d21fd2" stroke-width="2.2"/>
<polygon points="661.15,459.92 667.15,465.92 661.15,471.92 655.15,465.92" fill="#fff" stroke="#d21fd2" stroke-width="2.2"/>
<polygon points="156.02,279.5 160.61,282.15 160.61,287.45 156.02,290.1 151.43,287.45 151.43,282.15" fill="#fff" stroke="#0b7d0b" stroke-width="2.1"/>
<polygon points="200.06,284.36 204.65,287.01 204.65,292.31 200.06,294.96 195.47,292.31 195.47,287.01" fill="#fff" stroke="#0b7d0b" stroke-width="2.1"/>
<polygon points="235,288.4 239.59,291.05 239.59,296.35 235,299 230.41,296.35 230.41,291.05" fill="#fff" stroke="#0b7d0b" stroke-width="2.1"/>
<polygon points="263.95,289.69 268.54,292.34 268.54,297.64 263.95,300.29 259.36,297.64 259.36,292.34" fill="#fff" stroke="#0b7d0b" stroke-width="2.1"/>
<polygon points="288.68,296.89 293.27,299.54 293.27,304.84 288.68,307.49 284.09,304.84 284.09,299.54" fill="#fff" stroke="#0b7d0b" stroke-width="2.1"/>
<polygon points="310.26,309.27 314.85,311.92 314.85,317.22 310.26,319.87 305.67,317.22 305.67,311.92" fill="#fff" stroke="#0b7d0b" stroke-width="2.1"/>
<polygon points="329.4,317.97 333.99,320.62 333.99,325.92 329.4,328.57 324.81,325.92 324.81,320.62" fill="#fff" stroke="#0b7d0b" stroke-width="2.1"/>
<polygon points="346.6,319.66 351.19,322.31 351.19,327.61 346.6,330.26 342.01,327.61 342.01,322.31" fill="#fff" stroke="#0b7d0b" stroke-width="2.1"/>
<polygon points="362.21,329.68 366.8,332.33 366.8,337.63 362.21,340.28 357.62,337.63 357.62,332.33" fill="#fff" stroke="#0b7d0b" stroke-width="2.1"/>
<polygon points="376.51,335.23 381.1,337.88 381.1,343.18 376.51,345.83 371.92,343.18 371.92,337.88" fill="#fff" stroke="#0b7d0b" stroke-width="2.1"/>
<polygon points="389.7,340.25 394.29,342.9 394.29,348.2 389.7,350.85 385.11,348.2 385.11,342.9" fill="#fff" stroke="#0b7d0b" stroke-width="2.1"/>
<polygon points="401.93,345.81 406.52,348.46 406.52,353.76 401.93,356.41 397.34,353.76 397.34,348.46" fill="#fff" stroke="#0b7d0b" stroke-width="2.1"/>
<polygon points="413.34,352.03 417.93,354.68 417.93,359.98 413.34,362.63 408.75,359.98 408.75,354.68" fill="#fff" stroke="#0b7d0b" stroke-width="2.1"/>
<polygon points="424.03,361.44 428.62,364.09 428.62,369.39 424.03,372.04 419.44,369.39 419.44,364.09" fill="#fff" stroke="#0b7d0b" stroke-width="2.1"/>
<polygon points="434.09,368.74 438.68,371.39 438.68,376.69 434.09,379.34 429.5,376.69 429.5,371.39" fill="#fff" stroke="#0b7d0b" stroke-width="2.1"/>
<polygon points="443.59,375.78 448.18,378.43 448.18,383.73 443.59,386.38 439,383.73 439,378.43" fill="#fff" stroke="#0b7d0b" stroke-width="2.1"/>
<polygon points="452.58,381.99 457.17,384.64 457.17,389.94 452.58,392.59 447.99,389.94 447.99,384.64" fill="#fff" stroke="#0b7d0b" stroke-width="2.1"/>
<polygon points="461.12,388.16 465.71,390.81 465.71,396.11 461.12,398.76 456.53,396.11 456.53,390.81" fill="#fff" stroke="#0b7d0b" stroke-width="2.1"/>
<polygon points="469.25,392.74 473.84,395.39 473.84,400.69 469.25,403.34 464.66,400.69 464.66,395.39" fill="#fff" stroke="#0b7d0b" stroke-width="2.1"/>
<polygon points="477.01,396.73 481.6,399.38 481.6,404.68 477.01,407.33 472.42,404.68 472.42,399.38" fill="#fff" stroke="#0b7d0b" stroke-width="2.1"/>
<polygon points="484.43,401.03 489.02,403.68 489.02,408.98 484.43,411.63 479.84,408.98 479.84,403.68" fill="#fff" stroke="#0b7d0b" stroke-width="2.1"/>
<polygon points="491.54,405.94 496.13,408.59 496.13,413.89 491.54,416.54 486.95,413.89 486.95,408.59" fill="#fff" stroke="#0b7d0b" stroke-width="2.1"/>
<polygon points="498.36,409.83 502.95,412.48 502.95,417.78 498.36,420.43 493.77,417.78 493.77,412.48" fill="#fff" stroke="#0b7d0b" stroke-width="2.1"/>
<polygon points="504.92,412.95 509.51,415.6 509.51,420.9 504.92,423.55 500.33,420.9 500.33,415.6" fill="#fff" stroke="#0b7d0b" stroke-width="2.1"/>
<polygon points="511.23,416.68 515.82,419.33 515.82,424.63 511.23,427.28 506.64,424.63 506.64,419.33" fill="#fff" stroke="#0b7d0b" stroke-width="2.1"/>
<polygon points="517.32,420.15 521.91,422.8 521.91,428.1 517.32,430.75 512.73,428.1 512.73,422.8" fill="#fff" stroke="#0b7d0b" stroke-width="2.1"/>
<polygon points="523.2,423.19 527.79,425.84 527.79,431.14 523.2,433.79 518.61,431.14 518.61,425.84" fill="#fff" stroke="#0b7d0b" stroke-width="2.1"/>
<polygon points="528.88,426.12 533.47,428.77 533.47,434.07 528.88,436.72 524.29,434.07 524.29,428.77" fill="#fff" stroke="#0b7d0b" stroke-width="2.1"/>
<polygon points="534.37,428.3 538.96,430.95 538.96,436.25 534.37,438.9 529.78,436.25 529.78,430.95" fill="#fff" stroke="#0b7d0b" stroke-width="2.1"/>
<polygon points="539.7,430.26 544.29,432.91 544.29,438.21 539.7,440.86 535.11,438.21 535.11,432.91" fill="#fff" stroke="#0b7d0b" stroke-width="2.1"/>
<polygon points="544.86,432.15 549.45,434.8 549.45,440.1 544.86,442.75 540.27,440.1 540.27,434.8" fill="#fff" stroke="#0b7d0b" stroke-width="2.1"/>
<polygon points="549.87,433.79 554.46,436.44 554.46,441.74 549.87,444.39 545.28,441.74 545.28,436.44" fill="#fff" stroke="#0b7d0b" stroke-width="2.1"/>
<polygon points="554.73,435.38 559.32,438.03 559.32,443.33 554.73,445.98 550.14,443.33 550.14,438.03" fill="#fff" stroke="#0b7d0b" stroke-width="2.1"/>
<polygon points="559.46,436.93 564.05,439.58 564.05,444.88 559.46,447.53 554.87,444.88 554.87,439.58" fill="#fff" stroke="#0b7d0b" stroke-width="2.1"/>
<polygon points="564.07,438.48 568.66,441.13 568.66,446.43 564.07,449.08 559.48,446.43 559.48,441.13" fill="#fff" stroke="#0b7d0b" stroke-width="2.1"/>
<polygon points="568.55,440.01 573.14,442.66 573.14,447.96 568.55,450.61 563.96,447.96 563.96,442.66" fill="#fff" stroke="#0b7d0b" stroke-width="2.1"/>
<polygon points="572.91,441.49 577.5,444.14 577.5,449.44 572.91,452.09 568.32,449.44 568.32,444.14" fill="#fff" stroke="#0b7d0b" stroke-width="2.1"/>
<polygon points="577.17,442.74 581.76,445.39 581.76,450.69 577.17,453.34 572.58,450.69 572.58,445.39" fill="#fff" stroke="#0b7d0b" stroke-width="2.1"/>
<polygon points="581.32,443.78 585.91,446.43 585.91,451.73 581.32,454.38 576.73,451.73 576.73,446.43" fill="#fff" stroke="#0b7d0b" stroke-width="2.1"/>
<polygon points="585.37,444.79 589.96,447.44 589.96,452.74 585.37,455.39 580.78,452.74 580.78,447.44" fill="#fff" stroke="#0b7d0b" stroke-width="2.1"/>
<polygon points="589.33,445.78 593.92,448.43 593.92,453.73 589.33,456.38 584.74,453.73 584.74,448.43" fill="#fff" stroke="#0b7d0b" stroke-width="2.1"/>
<polygon points="593.2,446.75 597.79,449.4 597.79,454.7 593.2,457.35 588.61,454.7 588.61,449.4" fill="#fff" stroke="#0b7d0b" stroke-width="2.1"/>
<polygon points="596.98,447.75 601.57,450.4 601.57,455.7 596.98,458.35 592.39,455.7 592.39,450.4" fill="#fff" stroke="#0b7d0b" stroke-width="2.1"/>
<polygon points="600.68,448.77 605.27,451.42 605.27,456.72 600.68,459.37 596.09,456.72 596.09,451.42" fill="#fff" stroke="#0b7d0b" stroke-width="2.1"/>
<polygon points="604.3,449.77 608.89,452.42 608.89,457.72 604.3,460.37 599.71,457.72 599.71,452.42" fill="#fff" stroke="#0b7d0b" stroke-width="2.1"/>
<polygon points="607.84,450.75 612.43,453.4 612.43,458.7 607.84,461.35 603.25,458.7 603.25,453.4" fill="#fff" stroke="#0b7d0b" stroke-width="2.1"/>
<polygon points="611.31,451.71 615.9,454.36 615.9,459.66 611.31,462.31 606.72,459.66 606.72,454.36" fill="#fff" stroke="#0b7d0b" stroke-width="2.1"/>
<polygon points="614.72,452.65 619.31,455.3 619.31,460.6 614.72,463.25 610.13,460.6 610.13,455.3" fill="#fff" stroke="#0b7d0b" stroke-width="2.1"/>
<polygon points="618.05,453.58 622.64,456.23 622.64,461.53 618.05,464.18 613.46,461.53 613.46,456.23" fill="#fff" stroke="#0b7d0b" stroke-width="2.1"/>
<polygon points="621.32,454.48 625.91,457.13 625.91,462.43 621.32,465.08 616.73,462.43 616.73,457.13" fill="#fff" stroke="#0b7d0b" stroke-width="2.1"/>
<polygon points="624.53,455.37 629.12,458.02 629.12,463.32 624.53,465.97 619.94,463.32 619.94,458.02" fill="#fff" stroke="#0b7d0b" stroke-width="2.1"/>
<polygon points="627.68,456.3 632.27,458.95 632.27,464.25 627.68,466.9 623.09,464.25 623.09,458.95" fill="#fff" stroke="#0b7d0b" stroke-width="2.1"/>
<polygon points="630.77,457.23 635.36,459.88 635.36,465.18 630.77,467.83 626.18,465.18 626.18,459.88" fill="#fff" stroke="#0b7d0b" stroke-width="2.1"/>
<polygon points="633.81,458.14 638.4,460.79 638.4,466.09 633.81,468.74 629.22,466.09 629.22,460.79" fill="#fff" stroke="#0b7d0b" stroke-width="2.1"/>
<polygon points="636.79,459.04 641.38,461.69 641.38,466.99 636.79,469.64 632.2,466.99 632.2,461.69" fill="#fff" stroke="#0b7d0b" stroke-width="2.1"/>
<polygon points="639.73,459.92 644.32,462.57 644.32,467.87 639.73,470.52 635.14,467.87 635.14,462.57" fill="#fff" stroke="#0b7d0b" stroke-width="2.1"/>
<polygon points="642.61,460.84 647.2,463.49 647.2,468.79 642.61,471.44 638.02,468.79 638.02,463.49" fill="#fff" stroke="#0b7d0b" stroke-width="2.1"/>
<polygon points="645.44,461.75 650.03,464.4 650.03,469.7 645.44,472.35 640.85,469.7 640.85,464.4" fill="#fff" stroke="#0b7d0b" stroke-width="2.1"/>
<polygon points="648.23,462.65 652.82,465.3 652.82,470.6 648.23,473.25 643.64,470.6 643.64,465.3" fill="#fff" stroke="#0b7d0b" stroke-width="2.1"/>
<polygon points="650.97,463.53 655.56,466.18 655.56,471.48 650.97,474.13 646.38,471.48 646.38,466.18" fill="#fff" stroke="#0b7d0b" stroke-width="2.1"/>
<polygon points="653.67,464.4 658.26,467.05 658.26,472.35 653.67,475 649.08,472.35 649.08,467.05" fill="#fff" stroke="#0b7d0b" stroke-width="2.1"/>
<polygon points="656.33,465.25 660.92,467.9 660.92,473.2 656.33,475.85 651.74,473.2 651.74,467.9" fill="#fff" stroke="#0b7d0b" stroke-width="2.1"/>
<polygon points="658.94,466.09 663.53,468.74 663.53,474.04 658.94,476.69 654.35,474.04 654.35,468.74" fill="#fff" stroke="#0b7d0b" stroke-width="2.1"/>
<polygon points="661.52,466.92 666.11,469.57 666.11,474.87 661.52,477.52 656.93,474.87 656.93,469.57" fill="#fff" stroke="#0b7d0b" stroke-width="2.1"/>
<polygon points="664.06,467.4 668.64,470.05 668.64,475.35 664.06,478 659.47,475.35 659.47,470.05" fill="#fff" stroke="#0b7d0b" stroke-width="2.1"/>
<polygon points="157.31,286.63 162.45,290.36 160.49,296.4 154.14,296.4 152.18,290.36" fill="#fff" stroke="#ee8a22" stroke-width="2.0"/>
<polygon points="201.06,299.35 206.2,303.08 204.23,309.12 197.89,309.12 195.92,303.08" fill="#fff" stroke="#ee8a22" stroke-width="2.0"/>
<polygon points="235.81,311.03 240.94,314.76 238.98,320.8 232.63,320.8 230.67,314.76" fill="#fff" stroke="#ee8a22" stroke-width="2.0"/>
<polygon points="264.64,323.11 269.77,326.84 267.81,332.88 261.46,332.88 259.5,326.84" fill="#fff" stroke="#ee8a22" stroke-width="2.0"/>
<polygon points="289.27,323.83 294.41,327.56 292.45,333.6 286.1,333.6 284.14,327.56" fill="#fff" stroke="#ee8a22" stroke-width="2.0"/>
<polygon points="310.78,330.28 315.91,334.01 313.95,340.05 307.6,340.05 305.64,334.01" fill="#fff" stroke="#ee8a22" stroke-width="2.0"/>
<polygon points="329.86,340.65 335,344.38 333.04,350.42 326.69,350.42 324.73,344.38" fill="#fff" stroke="#ee8a22" stroke-width="2.0"/>
<polygon points="347.02,350.37 352.15,354.1 350.19,360.14 343.84,360.14 341.88,354.1" fill="#fff" stroke="#ee8a22" stroke-width="2.0"/>
<polygon points="362.6,354.75 367.73,358.48 365.77,364.52 359.42,364.52 357.46,358.48" fill="#fff" stroke="#ee8a22" stroke-width="2.0"/>
<polygon points="376.86,360.72 382,364.46 380.04,370.49 373.69,370.49 371.73,364.46" fill="#fff" stroke="#ee8a22" stroke-width="2.0"/>
<polygon points="390.02,365.24 395.16,368.98 393.2,375.01 386.85,375.01 384.89,368.98" fill="#fff" stroke="#ee8a22" stroke-width="2.0"/>
<polygon points="402.23,371.12 407.37,374.85 405.41,380.89 399.06,380.89 397.1,374.85" fill="#fff" stroke="#ee8a22" stroke-width="2.0"/>
<polygon points="413.63,382.05 418.76,385.78 416.8,391.82 410.45,391.82 408.49,385.78" fill="#fff" stroke="#ee8a22" stroke-width="2.0"/>
<polygon points="424.3,389.2 429.44,392.93 427.48,398.97 421.13,398.97 419.17,392.93" fill="#fff" stroke="#ee8a22" stroke-width="2.0"/>
<polygon points="434.35,396.79 439.48,400.52 437.52,406.56 431.17,406.56 429.21,400.52" fill="#fff" stroke="#ee8a22" stroke-width="2.0"/>
<polygon points="443.83,401.91 448.96,405.64 447,411.68 440.65,411.68 438.69,405.64" fill="#fff" stroke="#ee8a22" stroke-width="2.0"/>
<polygon points="452.81,407.13 457.94,410.86 455.98,416.9 449.63,416.9 447.67,410.86" fill="#fff" stroke="#ee8a22" stroke-width="2.0"/>
<polygon points="461.34,411.71 466.47,415.44 464.51,421.48 458.16,421.48 456.2,415.44" fill="#fff" stroke="#ee8a22" stroke-width="2.0"/>
<polygon points="469.46,414.65 474.59,418.38 472.63,424.42 466.28,424.42 464.32,418.38" fill="#fff" stroke="#ee8a22" stroke-width="2.0"/>
<polygon points="477.2,418.22 482.34,421.95 480.38,427.99 474.03,427.99 472.07,421.95" fill="#fff" stroke="#ee8a22" stroke-width="2.0"/>
<polygon points="484.62,421.38 489.75,425.11 487.79,431.15 481.44,431.15 479.48,425.11" fill="#fff" stroke="#ee8a22" stroke-width="2.0"/>
<polygon points="491.72,426.31 496.85,430.04 494.89,436.08 488.54,436.08 486.58,430.04" fill="#fff" stroke="#ee8a22" stroke-width="2.0"/>
<polygon points="498.53,430.99 503.67,434.72 501.71,440.76 495.36,440.76 493.4,434.72" fill="#fff" stroke="#ee8a22" stroke-width="2.0"/>
<polygon points="505.08,434.21 510.22,437.94 508.26,443.98 501.91,443.98 499.95,437.94" fill="#fff" stroke="#ee8a22" stroke-width="2.0"/>
<polygon points="511.39,437 516.53,440.73 514.57,446.77 508.22,446.77 506.26,440.73" fill="#fff" stroke="#ee8a22" stroke-width="2.0"/>
<polygon points="517.47,439.75 522.61,443.48 520.65,449.52 514.3,449.52 512.34,443.48" fill="#fff" stroke="#ee8a22" stroke-width="2.0"/>
<polygon points="523.35,442.46 528.48,446.2 526.52,452.23 520.17,452.23 518.21,446.2" fill="#fff" stroke="#ee8a22" stroke-width="2.0"/>
<polygon points="529.02,444.98 534.16,448.71 532.2,454.75 525.85,454.75 523.89,448.71" fill="#fff" stroke="#ee8a22" stroke-width="2.0"/>
<polygon points="534.51,446.55 539.65,450.28 537.69,456.32 531.34,456.32 529.38,450.28" fill="#fff" stroke="#ee8a22" stroke-width="2.0"/>
<polygon points="539.83,447.81 544.97,451.54 543.01,457.58 536.66,457.58 534.7,451.54" fill="#fff" stroke="#ee8a22" stroke-width="2.0"/>
<polygon points="544.99,448.91 550.13,452.64 548.16,458.68 541.82,458.68 539.85,452.64" fill="#fff" stroke="#ee8a22" stroke-width="2.0"/>
<polygon points="550,450.13 555.13,453.86 553.17,459.9 546.82,459.9 544.86,453.86" fill="#fff" stroke="#ee8a22" stroke-width="2.0"/>
<polygon points="554.86,451.33 559.99,455.06 558.03,461.1 551.68,461.1 549.72,455.06" fill="#fff" stroke="#ee8a22" stroke-width="2.0"/>
<polygon points="559.58,452.5 564.72,456.23 562.76,462.27 556.41,462.27 554.45,456.23" fill="#fff" stroke="#ee8a22" stroke-width="2.0"/>
<polygon points="564.18,454.08 569.32,457.81 567.36,463.85 561.01,463.85 559.05,457.81" fill="#fff" stroke="#ee8a22" stroke-width="2.0"/>
<polygon points="568.66,455.66 573.8,459.39 571.83,465.43 565.49,465.43 563.53,459.39" fill="#fff" stroke="#ee8a22" stroke-width="2.0"/>
<polygon points="573.02,457.2 578.16,460.93 576.2,466.97 569.85,466.97 567.89,460.93" fill="#fff" stroke="#ee8a22" stroke-width="2.0"/>
<polygon points="577.28,458.48 582.41,462.21 580.45,468.25 574.1,468.25 572.14,462.21" fill="#fff" stroke="#ee8a22" stroke-width="2.0"/>
<polygon points="581.42,459.54 586.56,463.27 584.6,469.31 578.25,469.31 576.29,463.27" fill="#fff" stroke="#ee8a22" stroke-width="2.0"/>
<polygon points="585.47,460.57 590.61,464.3 588.65,470.34 582.3,470.34 580.34,464.3" fill="#fff" stroke="#ee8a22" stroke-width="2.0"/>
<polygon points="589.43,461.58 594.57,465.31 592.6,471.35 586.26,471.35 584.29,465.31" fill="#fff" stroke="#ee8a22" stroke-width="2.0"/>
<polygon points="593.3,462.57 598.43,466.3 596.47,472.33 590.12,472.33 588.16,466.3" fill="#fff" stroke="#ee8a22" stroke-width="2.0"/>
<polygon points="597.07,463.43 602.21,467.16 600.25,473.2 593.9,473.2 591.94,467.16" fill="#fff" stroke="#ee8a22" stroke-width="2.0"/>
<polygon points="600.77,464.19 605.91,467.92 603.95,473.96 597.6,473.96 595.64,467.92" fill="#fff" stroke="#ee8a22" stroke-width="2.0"/>
<polygon points="604.39,464.94 609.52,468.67 607.56,474.71 601.22,474.71 599.25,468.67" fill="#fff" stroke="#ee8a22" stroke-width="2.0"/>
<polygon points="607.93,465.67 613.07,469.4 611.11,475.44 604.76,475.44 602.8,469.4" fill="#fff" stroke="#ee8a22" stroke-width="2.0"/>
<polygon points="611.4,466.39 616.54,470.12 614.58,476.16 608.23,476.16 606.27,470.12" fill="#fff" stroke="#ee8a22" stroke-width="2.0"/>
<polygon points="614.8,467.09 619.94,470.82 617.98,476.86 611.63,476.86 609.67,470.82" fill="#fff" stroke="#ee8a22" stroke-width="2.0"/>
<polygon points="618.14,467.78 623.27,471.51 621.31,477.55 614.96,477.55 613,471.51" fill="#fff" stroke="#ee8a22" stroke-width="2.0"/>
<polygon points="621.41,468.46 626.54,472.19 624.58,478.23 618.23,478.23 616.27,472.19" fill="#fff" stroke="#ee8a22" stroke-width="2.0"/>
<polygon points="624.61,469.12 629.75,472.85 627.79,478.89 621.44,478.89 619.48,472.85" fill="#fff" stroke="#ee8a22" stroke-width="2.0"/>
<polygon points="627.76,469.99 632.9,473.72 630.94,479.76 624.59,479.76 622.63,473.72" fill="#fff" stroke="#ee8a22" stroke-width="2.0"/>
<polygon points="630.85,470.88 635.99,474.61 634.03,480.65 627.68,480.65 625.72,474.61" fill="#fff" stroke="#ee8a22" stroke-width="2.0"/>
<polygon points="633.89,471.75 639.02,475.48 637.06,481.52 630.71,481.52 628.75,475.48" fill="#fff" stroke="#ee8a22" stroke-width="2.0"/>
<polygon points="636.87,472.6 642.01,476.33 640.04,482.37 633.7,482.37 631.73,476.33" fill="#fff" stroke="#ee8a22" stroke-width="2.0"/>
<polygon points="639.8,473.44 644.94,477.17 642.97,483.21 636.63,483.21 634.66,477.17" fill="#fff" stroke="#ee8a22" stroke-width="2.0"/>
<polygon points="642.68,473.99 647.82,477.72 645.85,483.76 639.51,483.76 637.55,477.72" fill="#fff" stroke="#ee8a22" stroke-width="2.0"/>
<polygon points="645.51,474.5 650.65,478.24 648.69,484.27 642.34,484.27 640.38,478.24" fill="#fff" stroke="#ee8a22" stroke-width="2.0"/>
<polygon points="648.3,475.01 653.44,478.74 651.47,484.78 645.13,484.78 643.16,478.74" fill="#fff" stroke="#ee8a22" stroke-width="2.0"/>
<polygon points="651.04,475.51 656.18,479.24 654.22,485.28 647.87,485.28 645.91,479.24" fill="#fff" stroke="#ee8a22" stroke-width="2.0"/>
<polygon points="653.74,476 658.87,479.73 656.91,485.77 650.56,485.77 648.6,479.73" fill="#fff" stroke="#ee8a22" stroke-width="2.0"/>
<polygon points="656.39,476.49 661.53,480.22 659.57,486.26 653.22,486.26 651.26,480.22" fill="#fff" stroke="#ee8a22" stroke-width="2.0"/>
<polygon points="659.01,476.96 664.14,480.69 662.18,486.73 655.83,486.73 653.87,480.69" fill="#fff" stroke="#ee8a22" stroke-width="2.0"/>
<polygon points="661.58,477.43 666.72,481.16 664.76,487.2 658.41,487.2 656.45,481.16" fill="#fff" stroke="#ee8a22" stroke-width="2.0"/>
<polygon points="664.12,477.89 669.26,481.63 667.29,487.66 660.95,487.66 658.98,481.63" fill="#fff" stroke="#ee8a22" stroke-width="2.0"/>
</g>
<g stroke="#000" stroke-width="3.0">
<line x1="110.52" y1="489.6" x2="110.52" y2="497.4"/>
<line x1="110.52" y1="5.4" x2="110.52" y2="16.4"/>
<line x1="179.32" y1="489.6" x2="179.32" y2="497.4"/>
<line x1="179.32" y1="5.4" x2="179.32" y2="16.4"/>
<line x1="266" y1="489.6" x2="266" y2="497.4"/>
<line x1="266" y1="5.4" x2="266" y2="16.4"/>
<line x1="334.8" y1="489.6" x2="334.8" y2="497.4"/>
<line x1="334.8" y1="5.4" x2="334.8" y2="16.4"/>
<line x1="452.41" y1="489.6" x2="452.41" y2="497.4"/>
<line x1="452.41" y1="5.4" x2="452.41" y2="16.4"/>
<line x1="539.09" y1="489.6" x2="539.09" y2="497.4"/>
<line x1="539.09" y1="5.4" x2="539.09" y2="16.4"/>
<line x1="596.18" y1="489.6" x2="596.18" y2="497.4"/>
<line x1="596.18" y1="5.4" x2="596.18" y2="16.4"/>
<line x1="656.7" y1="489.6" x2="656.7" y2="497.4"/>
<line x1="656.7" y1="5.4" x2="656.7" y2="16.4"/>
<line x1="119.7" y1="489.6" x2="119.7" y2="492.8"/>
<line x1="119.7" y1="8.6" x2="119.7" y2="11.6"/>
<line x1="128.4" y1="489.6" x2="128.4" y2="492.8"/>
<line x1="128.4" y1="8.6" x2="128.4" y2="11.6"/>
<line x1="136.68" y1="489.6" x2="136.68" y2="492.8"/>
<line x1="136.68" y1="8.6" x2="136.68" y2="11.6"/>
<line x1="144.57" y1="489.6" x2="144.57" y2="492.8"/>
<line x1="144.57" y1="8.6" x2="144.57" y2="11.6"/>
<line x1="152.12" y1="489.6" x2="152.12" y2="492.8"/>
<line x1="152.12" y1="8.6" x2="152.12" y2="11.6"/>
<line x1="159.34" y1="489.6" x2="159.34" y2="492.8"/>
<line x1="159.34" y1="8.6" x2="159.34" y2="11.6"/>
<line x1="166.27" y1="489.6" x2="166.27" y2="492.8"/>
<line x1="166.27" y1="8.6" x2="166.27" y2="11.6"/>
<line x1="172.92" y1="489.6" x2="172.92" y2="492.8"/>
<line x1="172.92" y1="8.6" x2="172.92" y2="11.6"/>
<line x1="191.45" y1="489.6" x2="191.45" y2="492.8"/>
<line x1="191.45" y1="8.6" x2="191.45" y2="11.6"/>
<line x1="202.76" y1="489.6" x2="202.76" y2="492.8"/>
<line x1="202.76" y1="8.6" x2="202.76" y2="11.6"/>
<line x1="213.37" y1="489.6" x2="213.37" y2="492.8"/>
<line x1="213.37" y1="8.6" x2="213.37" y2="11.6"/>
<line x1="223.36" y1="489.6" x2="223.36" y2="492.8"/>
<line x1="223.36" y1="8.6" x2="223.36" y2="11.6"/>
<line x1="232.79" y1="489.6" x2="232.79" y2="492.8"/>
<line x1="232.79" y1="8.6" x2="232.79" y2="11.6"/>
<line x1="241.72" y1="489.6" x2="241.72" y2="492.8"/>
<line x1="241.72" y1="8.6" x2="241.72" y2="11.6"/>
<line x1="250.2" y1="489.6" x2="250.2" y2="492.8"/>
<line x1="250.2" y1="8.6" x2="250.2" y2="11.6"/>
<line x1="258.29" y1="489.6" x2="258.29" y2="492.8"/>
<line x1="258.29" y1="8.6" x2="258.29" y2="11.6"/>
<line x1="275.17" y1="489.6" x2="275.17" y2="492.8"/>
<line x1="275.17" y1="8.6" x2="275.17" y2="11.6"/>
<line x1="283.88" y1="489.6" x2="283.88" y2="492.8"/>
<line x1="283.88" y1="8.6" x2="283.88" y2="11.6"/>
<line x1="292.16" y1="489.6" x2="292.16" y2="492.8"/>
<line x1="292.16" y1="8.6" x2="292.16" y2="11.6"/>
<line x1="300.05" y1="489.6" x2="300.05" y2="492.8"/>
<line x1="300.05" y1="8.6" x2="300.05" y2="11.6"/>
<line x1="307.59" y1="489.6" x2="307.59" y2="492.8"/>
<line x1="307.59" y1="8.6" x2="307.59" y2="11.6"/>
<line x1="314.81" y1="489.6" x2="314.81" y2="492.8"/>
<line x1="314.81" y1="8.6" x2="314.81" y2="11.6"/>
<line x1="321.74" y1="489.6" x2="321.74" y2="492.8"/>
<line x1="321.74" y1="8.6" x2="321.74" y2="11.6"/>
<line x1="328.4" y1="489.6" x2="328.4" y2="492.8"/>
<line x1="328.4" y1="8.6" x2="328.4" y2="11.6"/>
<line x1="352.68" y1="489.6" x2="352.68" y2="492.8"/>
<line x1="352.68" y1="8.6" x2="352.68" y2="11.6"/>
<line x1="368.85" y1="489.6" x2="368.85" y2="492.8"/>
<line x1="368.85" y1="8.6" x2="368.85" y2="11.6"/>
<line x1="383.61" y1="489.6" x2="383.61" y2="492.8"/>
<line x1="383.61" y1="8.6" x2="383.61" y2="11.6"/>
<line x1="397.19" y1="489.6" x2="397.19" y2="492.8"/>
<line x1="397.19" y1="8.6" x2="397.19" y2="11.6"/>
<line x1="409.77" y1="489.6" x2="409.77" y2="492.8"/>
<line x1="409.77" y1="8.6" x2="409.77" y2="11.6"/>
<line x1="421.48" y1="489.6" x2="421.48" y2="492.8"/>
<line x1="421.48" y1="8.6" x2="421.48" y2="11.6"/>
<line x1="432.43" y1="489.6" x2="432.43" y2="492.8"/>
<line x1="432.43" y1="8.6" x2="432.43" y2="11.6"/>
<line x1="442.71" y1="489.6" x2="442.71" y2="492.8"/>
<line x1="442.71" y1="8.6" x2="442.71" y2="11.6"/>
<line x1="464.54" y1="489.6" x2="464.54" y2="492.8"/>
<line x1="464.54" y1="8.6" x2="464.54" y2="11.6"/>
<line x1="475.85" y1="489.6" x2="475.85" y2="492.8"/>
<line x1="475.85" y1="8.6" x2="475.85" y2="11.6"/>
<line x1="486.46" y1="489.6" x2="486.46" y2="492.8"/>
<line x1="486.46" y1="8.6" x2="486.46" y2="11.6"/>
<line x1="496.44" y1="489.6" x2="496.44" y2="492.8"/>
<line x1="496.44" y1="8.6" x2="496.44" y2="11.6"/>
<line x1="505.87" y1="489.6" x2="505.87" y2="492.8"/>
<line x1="505.87" y1="8.6" x2="505.87" y2="11.6"/>
<line x1="514.81" y1="489.6" x2="514.81" y2="492.8"/>
<line x1="514.81" y1="8.6" x2="514.81" y2="11.6"/>
<line x1="523.29" y1="489.6" x2="523.29" y2="492.8"/>
<line x1="523.29" y1="8.6" x2="523.29" y2="11.6"/>
<line x1="531.37" y1="489.6" x2="531.37" y2="492.8"/>
<line x1="531.37" y1="8.6" x2="531.37" y2="11.6"/>
<line x1="546.47" y1="489.6" x2="546.47" y2="492.8"/>
<line x1="546.47" y1="8.6" x2="546.47" y2="11.6"/>
<line x1="553.54" y1="489.6" x2="553.54" y2="492.8"/>
<line x1="553.54" y1="8.6" x2="553.54" y2="11.6"/>
<line x1="560.33" y1="489.6" x2="560.33" y2="492.8"/>
<line x1="560.33" y1="8.6" x2="560.33" y2="11.6"/>
<line x1="566.85" y1="489.6" x2="566.85" y2="492.8"/>
<line x1="566.85" y1="8.6" x2="566.85" y2="11.6"/>
<line x1="573.14" y1="489.6" x2="573.14" y2="492.8"/>
<line x1="573.14" y1="8.6" x2="573.14" y2="11.6"/>
<line x1="579.2" y1="489.6" x2="579.2" y2="492.8"/>
<line x1="579.2" y1="8.6" x2="579.2" y2="11.6"/>
<line x1="585.05" y1="489.6" x2="585.05" y2="492.8"/>
<line x1="585.05" y1="8.6" x2="585.05" y2="11.6"/>
<line x1="590.71" y1="489.6" x2="590.71" y2="492.8"/>
<line x1="590.71" y1="8.6" x2="590.71" y2="11.6"/>
<line x1="604.07" y1="489.6" x2="604.07" y2="492.8"/>
<line x1="604.07" y1="8.6" x2="604.07" y2="11.6"/>
<line x1="611.62" y1="489.6" x2="611.62" y2="492.8"/>
<line x1="611.62" y1="8.6" x2="611.62" y2="11.6"/>
<line x1="618.84" y1="489.6" x2="618.84" y2="492.8"/>
<line x1="618.84" y1="8.6" x2="618.84" y2="11.6"/>
<line x1="625.76" y1="489.6" x2="625.76" y2="492.8"/>
<line x1="625.76" y1="8.6" x2="625.76" y2="11.6"/>
<line x1="632.42" y1="489.6" x2="632.42" y2="492.8"/>
<line x1="632.42" y1="8.6" x2="632.42" y2="11.6"/>
<line x1="638.82" y1="489.6" x2="638.82" y2="492.8"/>
<line x1="638.82" y1="8.6" x2="638.82" y2="11.6"/>
<line x1="644.99" y1="489.6" x2="644.99" y2="492.8"/>
<line x1="644.99" y1="8.6" x2="644.99" y2="11.6"/>
<line x1="650.95" y1="489.6" x2="650.95" y2="492.8"/>
<line x1="650.95" y1="8.6" x2="650.95" y2="11.6"/>
<line x1="74.2" y1="468.3" x2="66" y2="468.3"/>
<line x1="674.9" y1="468.3" x2="663.7" y2="468.3"/>
<line x1="74.2" y1="406.85" x2="66" y2="406.85"/>
<line x1="674.9" y1="406.85" x2="663.7" y2="406.85"/>
<line x1="74.2" y1="345.4" x2="66" y2="345.4"/>
<line x1="674.9" y1="345.4" x2="663.7" y2="345.4"/>
<line x1="74.2" y1="283.95" x2="66" y2="283.95"/>
<line x1="674.9" y1="283.95" x2="663.7" y2="283.95"/>
<line x1="74.2" y1="222.5" x2="66" y2="222.5"/>
<line x1="674.9" y1="222.5" x2="663.7" y2="222.5"/>
<line x1="74.2" y1="161.05" x2="66" y2="161.05"/>
<line x1="674.9" y1="161.05" x2="663.7" y2="161.05"/>
<line x1="74.2" y1="99.6" x2="66" y2="99.6"/>
<line x1="674.9" y1="99.6" x2="663.7" y2="99.6"/>
<line x1="74.2" y1="38.15" x2="66" y2="38.15"/>
<line x1="674.9" y1="38.15" x2="663.7" y2="38.15"/>
<line x1="74.2" y1="462.15" x2="71" y2="462.15"/>
<line x1="671.7" y1="462.15" x2="667.7" y2="462.15"/>
<line x1="74.2" y1="456.01" x2="71" y2="456.01"/>
<line x1="671.7" y1="456.01" x2="667.7" y2="456.01"/>
<line x1="74.2" y1="449.87" x2="71" y2="449.87"/>
<line x1="671.7" y1="449.87" x2="667.7" y2="449.87"/>
<line x1="74.2" y1="443.72" x2="71" y2="443.72"/>
<line x1="671.7" y1="443.72" x2="667.7" y2="443.72"/>
<line x1="74.2" y1="437.57" x2="71" y2="437.57"/>
<line x1="671.7" y1="437.57" x2="667.7" y2="437.57"/>
<line x1="74.2" y1="431.43" x2="71" y2="431.43"/>
<line x1="671.7" y1="431.43" x2="667.7" y2="431.43"/>
<line x1="74.2" y1="425.28" x2="71" y2="425.28"/>
<line x1="671.7" y1="425.28" x2="667.7" y2="425.28"/>
<line x1="74.2" y1="419.14" x2="71" y2="419.14"/>
<line x1="671.7" y1="419.14" x2="667.7" y2="419.14"/>
<line x1="74.2" y1="413" x2="71" y2="413"/>
<line x1="671.7" y1="413" x2="667.7" y2="413"/>
<line x1="74.2" y1="400.71" x2="71" y2="400.71"/>
<line x1="671.7" y1="400.71" x2="667.7" y2="400.71"/>
<line x1="74.2" y1="394.56" x2="71" y2="394.56"/>
<line x1="671.7" y1="394.56" x2="667.7" y2="394.56"/>
<line x1="74.2" y1="388.41" x2="71" y2="388.41"/>
<line x1="671.7" y1="388.41" x2="667.7" y2="388.41"/>
<line x1="74.2" y1="382.27" x2="71" y2="382.27"/>
<line x1="671.7" y1="382.27" x2="667.7" y2="382.27"/>
<line x1="74.2" y1="376.12" x2="71" y2="376.12"/>
<line x1="671.7" y1="376.12" x2="667.7" y2="376.12"/>
<line x1="74.2" y1="369.98" x2="71" y2="369.98"/>
<line x1="671.7" y1="369.98" x2="667.7" y2="369.98"/>
<line x1="74.2" y1="363.83" x2="71" y2="363.83"/>
<line x1="671.7" y1="363.83" x2="667.7" y2="363.83"/>
<line x1="74.2" y1="357.69" x2="71" y2="357.69"/>
<line x1="671.7" y1="357.69" x2="667.7" y2="357.69"/>
<line x1="74.2" y1="351.54" x2="71" y2="351.54"/>
<line x1="671.7" y1="351.54" x2="667.7" y2="351.54"/>
<line x1="74.2" y1="339.25" x2="71" y2="339.25"/>
<line x1="671.7" y1="339.25" x2="667.7" y2="339.25"/>
<line x1="74.2" y1="333.11" x2="71" y2="333.11"/>
<line x1="671.7" y1="333.11" x2="667.7" y2="333.11"/>
<line x1="74.2" y1="326.96" x2="71" y2="326.96"/>
<line x1="671.7" y1="326.96" x2="667.7" y2="326.96"/>
<line x1="74.2" y1="320.82" x2="71" y2="320.82"/>
<line x1="671.7" y1="320.82" x2="667.7" y2="320.82"/>
<line x1="74.2" y1="314.67" x2="71" y2="314.67"/>
<line x1="671.7" y1="314.67" x2="667.7" y2="314.67"/>
<line x1="74.2" y1="308.53" x2="71" y2="308.53"/>
<line x1="671.7" y1="308.53" x2="667.7" y2="308.53"/>
<line x1="74.2" y1="302.38" x2="71" y2="302.38"/>
<line x1="671.7" y1="302.38" x2="667.7" y2="302.38"/>
<line x1="74.2" y1="296.24" x2="71" y2="296.24"/>
<line x1="671.7" y1="296.24" x2="667.7" y2="296.24"/>
<line x1="74.2" y1="290.09" x2="71" y2="290.09"/>
<line x1="671.7" y1="290.09" x2="667.7" y2="290.09"/>
<line x1="74.2" y1="277.8" x2="71" y2="277.8"/>
<line x1="671.7" y1="277.8" x2="667.7" y2="277.8"/>
<line x1="74.2" y1="271.66" x2="71" y2="271.66"/>
<line x1="671.7" y1="271.66" x2="667.7" y2="271.66"/>
<line x1="74.2" y1="265.51" x2="71" y2="265.51"/>
<line x1="671.7" y1="265.51" x2="667.7" y2="265.51"/>
<line x1="74.2" y1="259.37" x2="71" y2="259.37"/>
<line x1="671.7" y1="259.37" x2="667.7" y2="259.37"/>
<line x1="74.2" y1="253.22" x2="71" y2="253.22"/>
<line x1="671.7" y1="253.22" x2="667.7" y2="253.22"/>
<line x1="74.2" y1="247.08" x2="71" y2="247.08"/>
<line x1="671.7" y1="247.08" x2="667.7" y2="247.08"/>
<line x1="74.2" y1="240.93" x2="71" y2="240.93"/>
<line x1="671.7" y1="240.93" x2="667.7" y2="240.93"/>
<line x1="74.2" y1="234.79" x2="71" y2="234.79"/>
<line x1="671.7" y1="234.79" x2="667.7" y2="234.79"/>
<line x1="74.2" y1="228.64" x2="71" y2="228.64"/>
<line x1="671.7" y1="228.64" x2="667.7" y2="228.64"/>
<line x1="74.2" y1="216.35" x2="71" y2="216.35"/>
<line x1="671.7" y1="216.35" x2="667.7" y2="216.35"/>
<line x1="74.2" y1="210.21" x2="71" y2="210.21"/>
<line x1="671.7" y1="210.21" x2="667.7" y2="210.21"/>
<line x1="74.2" y1="204.06" x2="71" y2="204.06"/>
<line x1="671.7" y1="204.06" x2="667.7" y2="204.06"/>
<line x1="74.2" y1="197.92" x2="71" y2="197.92"/>
<line x1="671.7" y1="197.92" x2="667.7" y2="197.92"/>
<line x1="74.2" y1="191.77" x2="71" y2="191.77"/>
<line x1="671.7" y1="191.77" x2="667.7" y2="191.77"/>
<line x1="74.2" y1="185.63" x2="71" y2="185.63"/>
<line x1="671.7" y1="185.63" x2="667.7" y2="185.63"/>
<line x1="74.2" y1="179.49" x2="71" y2="179.49"/>
<line x1="671.7" y1="179.49" x2="667.7" y2="179.49"/>
<line x1="74.2" y1="173.34" x2="71" y2="173.34"/>
<line x1="671.7" y1="173.34" x2="667.7" y2="173.34"/>
<line x1="74.2" y1="167.19" x2="71" y2="167.19"/>
<line x1="671.7" y1="167.19" x2="667.7" y2="167.19"/>
<line x1="74.2" y1="154.9" x2="71" y2="154.9"/>
<line x1="671.7" y1="154.9" x2="667.7" y2="154.9"/>
<line x1="74.2" y1="148.76" x2="71" y2="148.76"/>
<line x1="671.7" y1="148.76" x2="667.7" y2="148.76"/>
<line x1="74.2" y1="142.61" x2="71" y2="142.61"/>
<line x1="671.7" y1="142.61" x2="667.7" y2="142.61"/>
<line x1="74.2" y1="136.47" x2="71" y2="136.47"/>
<line x1="671.7" y1="136.47" x2="667.7" y2="136.47"/>
<line x1="74.2" y1="130.32" x2="71" y2="130.32"/>
<line x1="671.7" y1="130.32" x2="667.7" y2="130.32"/>
<line x1="74.2" y1="124.18" x2="71" y2="124.18"/>
<line x1="671.7" y1="124.18" x2="667.7" y2="124.18"/>
<line x1="74.2" y1="118.03" x2="71" y2="118.03"/>
<line x1="671.7" y1="118.03" x2="667.7" y2="118.03"/>
<line x1="74.2" y1="111.89" x2="71" y2="111.89"/>
<line x1="671.7" y1="111.89" x2="667.7" y2="111.89"/>
<line x1="74.2" y1="105.75" x2="71" y2="105.75"/>
<line x1="671.7" y1="105.75" x2="667.7" y2="105.75"/>
<line x1="74.2" y1="93.45" x2="71" y2="93.45"/>
<line x1="671.7" y1="93.45" x2="667.7" y2="93.45"/>
<line x1="74.2" y1="87.31" x2="71" y2="87.31"/>
<line x1="671.7" y1="87.31" x2="667.7" y2="87.31"/>
<line x1="74.2" y1="81.16" x2="71" y2="81.16"/>
<line x1="671.7" y1="81.16" x2="667.7" y2="81.16"/>
<line x1="74.2" y1="75.02" x2="71" y2="75.02"/>
<line x1="671.7" y1="75.02" x2="667.7" y2="75.02"/>
<line x1="74.2" y1="68.87" x2="71" y2="68.87"/>
<line x1="671.7" y1="68.87" x2="667.7" y2="68.87"/>
<line x1="74.2" y1="62.73" x2="71" y2="62.73"/>
<line x1="671.7" y1="62.73" x2="667.7" y2="62.73"/>
<line x1="74.2" y1="56.58" x2="71" y2="56.58"/>
<line x1="671.7" y1="56.58" x2="667.7" y2="56.58"/>
<line x1="74.2" y1="50.44" x2="71" y2="50.44"/>
<line x1="671.7" y1="50.44" x2="667.7" y2="50.44"/>
<line x1="74.2" y1="44.29" x2="71" y2="44.29"/>
<line x1="671.7" y1="44.29" x2="667.7" y2="44.29"/>
</g>
<rect x="76.0" y="7.0" width="597.3" height="481.0" fill="none" stroke="#000" stroke-width="3.4"/>
<g font-family="Liberation Serif" font-weight="bold" font-size="20" fill="#000">
<text x="110.52" y="520.3" text-anchor="middle">400</text>
<text x="179.32" y="520.3" text-anchor="middle">600</text>
<text x="266" y="520.3" text-anchor="middle">1000</text>
<text x="334.8" y="520.3" text-anchor="middle">1500</text>
<text x="452.41" y="520.3" text-anchor="middle">3000</text>
<text x="539.09" y="520.3" text-anchor="middle">5000</text>
<text x="596.18" y="520.3" text-anchor="middle">7000</text>
<text x="656.7" y="520.3" text-anchor="middle">10000</text>
<text x="60" y="474.6" text-anchor="end">0.1</text>
<text x="60" y="413.15" text-anchor="end">0.2</text>
<text x="60" y="351.7" text-anchor="end">0.3</text>
<text x="60" y="290.25" text-anchor="end">0.4</text>
<text x="60" y="228.8" text-anchor="end">0.5</text>
<text x="60" y="167.35" text-anchor="end">0.6</text>
<text x="60" y="105.9" text-anchor="end">0.7</text>
<text x="60" y="44.45" text-anchor="end">0.8</text>
</g>
<text x="374" y="559.7" text-anchor="middle" font-family="Liberation Serif" font-weight="bold" font-style="italic" font-size="25">Re</text>
<g stroke="#000" stroke-linecap="round" fill="none">
<line x1="6.9" y1="241.0" x2="8.6" y2="243.2" stroke-width="1.5"/>
<line x1="8.6" y1="243.2" x2="10.9" y2="244.5" stroke-width="2"/>
<line x1="10.9" y1="244.5" x2="13.2" y2="245.5" stroke-width="2.5"/>
<line x1="13.2" y1="245.5" x2="17.8" y2="247.1" stroke-width="2.8"/>
<line x1="17.8" y1="247.1" x2="22.3" y2="248.6" stroke-width="2.8"/>
<line x1="22.3" y1="248.6" x2="25.6" y2="250.1" stroke-width="2.45"/>
<line x1="25.6" y1="250.1" x2="27.7" y2="251.9" stroke-width="1.9"/>
<line x1="27.7" y1="251.9" x2="28.2" y2="253.6" stroke-width="1.4"/>
<line x1="13.2" y1="243.4" x2="13.2" y2="249.0" stroke-width="1.7"/>
</g>
<circle cx="8.2" cy="239.9" r="1.55" fill="#000"/>
<circle cx="27.4" cy="254.4" r="1.55" fill="#000"/>
<rect x="367.3" y="22.2" width="289.7" height="241.9" fill="#fff" stroke="#000" stroke-width="2.4"/>
<polygon points="389.3,27.4 395.3,33.4 389.3,39.4 383.3,33.4" fill="#fff" stroke="#d21fd2" stroke-width="2.2"/>
<text x="416.0" y="39.7" font-family="Liberation Serif" font-weight="bold" font-size="17.1" word-spacing="0.4">S.R. = 3 (Present Study)</text>
<polygon points="389.3,52.6 393.89,55.25 393.89,60.55 389.3,63.2 384.71,60.55 384.71,55.25" fill="#fff" stroke="#0b7d0b" stroke-width="2.1"/>
<text x="416.0" y="64.2" font-family="Liberation Serif" font-weight="bold" font-size="17.1" word-spacing="0.4">S.R. = 4 (Present Study)</text>
<polygon points="389.3,77.4 394.44,81.13 392.47,87.17 386.13,87.17 384.16,81.13" fill="#fff" stroke="#ee8a22" stroke-width="2.0"/>
<text x="416.0" y="88.7" font-family="Liberation Serif" font-weight="bold" font-size="17.1" word-spacing="0.4">S.R. = 5 (Present Study)</text>
<polygon points="383.2,103.1 395.4,103.1 389.3,113.1" fill="#fff" stroke="none"/><polygon points="389.3,103.1 395.4,103.1 389.3,113.1" fill="#0a0a96" stroke="none"/><polygon points="383.2,103.1 395.4,103.1 389.3,113.1" fill="none" stroke="#00006a" stroke-width="1.2"/>
<text x="416.0" y="113.2" font-family="Liberation Serif" font-weight="bold" font-size="17.1" word-spacing="0.4">CTT Abolarin et al. [49]</text>
<polygon points="389.3,125 395.7,131.4 389.3,137.8 382.9,131.4" fill="#fff" stroke="none"/><polygon points="389.3,125 395.7,131.4 389.3,137.8" fill="#8a1ef0" stroke="none"/><polygon points="389.3,125 395.7,131.4 389.3,137.8 382.9,131.4" fill="none" stroke="#46208a" stroke-width="1.2"/>
<text x="416.0" y="137.7" font-family="Liberation Serif" font-weight="bold" font-size="17.1" word-spacing="0.4">CCCTT (60<tspan font-size="11" dy="-7">o</tspan><tspan dy="7">) Abolarin et al. [50]</tspan></text>
<polygon points="382.7,155.9 392.7,150.1 392.7,161.7" fill="#fff" stroke="none"/><polygon points="389.37,152.03 392.7,150.1 392.7,161.7 389.37,159.77" fill="#000" stroke="none"/><polygon points="382.7,155.9 392.7,150.1 392.7,161.7" fill="none" stroke="#000" stroke-width="1.2"/>
<text x="416.0" y="162.2" font-family="Liberation Serif" font-weight="bold" font-size="17.1" word-spacing="0.4">PUCTT Abolarin et al. [50]</text>
<polygon points="385.6,174.4 396.8,180.4 385.6,186.4" fill="#fff" stroke="none"/><polygon points="388.4,175.9 396.8,180.4 388.4,184.9" fill="#14f014" stroke="none"/><polygon points="385.6,174.4 396.8,180.4 385.6,186.4" fill="none" stroke="#12d812" stroke-width="1.2"/>
<text x="416.0" y="186.7" font-family="Liberation Serif" font-weight="bold" font-size="17.1" word-spacing="0.4">CTT (30<tspan font-size="11" dy="-7">o</tspan><tspan dy="7">) Abolarin et al. [50]</tspan></text>
<polygon points="384.7,200.3 393.9,200.3 393.9,209.5 384.7,209.5" fill="#fff" stroke="none"/><polygon points="389.3,200.3 393.9,200.3 393.9,209.5 389.3,209.5" fill="#fe0000" stroke="none"/><polygon points="384.7,200.3 393.9,200.3 393.9,209.5 384.7,209.5" fill="none" stroke="#a82020" stroke-width="1.2"/>
<text x="416.0" y="211.2" font-family="Liberation Serif" font-weight="bold" font-size="17.1" word-spacing="0.4">y =3 Abolarin and Meyer [51]</text>
<polygon points="383.3,232.1 389.3,222.3 395.3,232.1" fill="#fff" stroke="none"/><polygon points="389.3,222.3 395.3,232.1 389.3,232.1" fill="#800000" stroke="none"/><polygon points="383.3,232.1 389.3,222.3 395.3,232.1" fill="none" stroke="#5a0000" stroke-width="1.2"/>
<text x="416.0" y="235.7" font-family="Liberation Serif" font-weight="bold" font-size="17.1" word-spacing="0.4">y = 4 Abolarin and Meyer [51]</text>
<circle cx="389.3" cy="253.9" r="5.2" fill="#fff"/><path d="M389.3,248.7 A5.2,5.2 0 0 1 389.3,259.1 Z" fill="#f00"/><circle cx="389.3" cy="253.9" r="5.2" fill="none" stroke="#a82020" stroke-width="1.2"/>
<text x="416.0" y="260.2" font-family="Liberation Serif" font-weight="bold" font-size="17.1" word-spacing="0.4">y = 5 Abolarin and Meyer [51]</text>
</svg>
</body></html>
